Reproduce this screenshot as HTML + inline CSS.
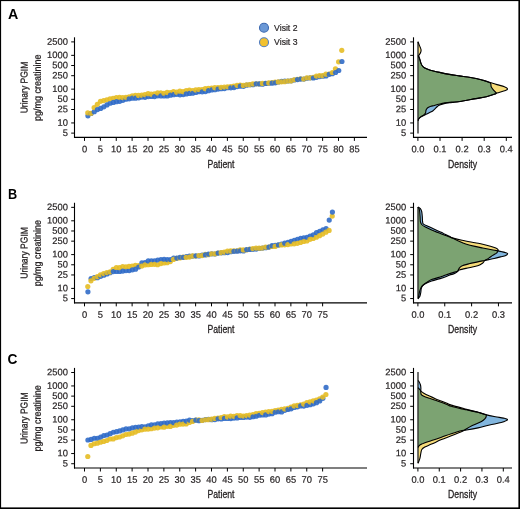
<!DOCTYPE html>
<html><head><meta charset="utf-8"><style>
html,body{margin:0;padding:0;background:#fff;}
svg{display:block;will-change:transform;}
</style></head><body>
<svg width="520" height="509" viewBox="0 0 520 509">
<defs><filter id="soft" x="-5%" y="-5%" width="110%" height="110%"><feGaussianBlur stdDeviation="0.5"/></filter></defs>
<rect x="0" y="0" width="520" height="509" fill="#fff"/>
<text x="8.0" y="19.0" textLength="10.3" lengthAdjust="spacingAndGlyphs" style="font-family:'Liberation Sans',sans-serif;font-size:14px;font-weight:700" fill="#000">A</text>
<text transform="translate(27.6,87.50) rotate(-89.9)" text-anchor="middle" textLength="51.6" lengthAdjust="spacingAndGlyphs" style="font-family:'Liberation Sans',sans-serif;font-size:10.0px" fill="#231f20" stroke="#231f20" stroke-width="0.3">Urinary PGIM</text>
<text transform="translate(40.7,87.75) rotate(-89.9)" text-anchor="middle" textLength="66.3" lengthAdjust="spacingAndGlyphs" style="font-family:'Liberation Sans',sans-serif;font-size:10.0px" fill="#231f20" stroke="#231f20" stroke-width="0.3">pg/mg creatinine</text>
<line x1="74.5" y1="37.30" x2="74.5" y2="137.95" stroke="#000" stroke-width="1.1"/>
<line x1="71.20" y1="41.90" x2="74.5" y2="41.90" stroke="#000" stroke-width="1"/>
<text transform="translate(67.90,44.70) rotate(0.1)" text-anchor="end" textLength="20.80" lengthAdjust="spacingAndGlyphs" style="font-family:'Liberation Sans',sans-serif;font-size:9.4px" fill="#231f20" stroke="#231f20" stroke-width="0.2">2500</text>
<line x1="71.20" y1="55.35" x2="74.5" y2="55.35" stroke="#000" stroke-width="1"/>
<text transform="translate(67.90,58.15) rotate(0.1)" text-anchor="end" textLength="20.80" lengthAdjust="spacingAndGlyphs" style="font-family:'Liberation Sans',sans-serif;font-size:9.4px" fill="#231f20" stroke="#231f20" stroke-width="0.2">1000</text>
<line x1="71.20" y1="65.52" x2="74.5" y2="65.52" stroke="#000" stroke-width="1"/>
<text transform="translate(67.90,68.32) rotate(0.1)" text-anchor="end" textLength="15.60" lengthAdjust="spacingAndGlyphs" style="font-family:'Liberation Sans',sans-serif;font-size:9.4px" fill="#231f20" stroke="#231f20" stroke-width="0.2">500</text>
<line x1="71.20" y1="75.70" x2="74.5" y2="75.70" stroke="#000" stroke-width="1"/>
<text transform="translate(67.90,78.50) rotate(0.1)" text-anchor="end" textLength="15.60" lengthAdjust="spacingAndGlyphs" style="font-family:'Liberation Sans',sans-serif;font-size:9.4px" fill="#231f20" stroke="#231f20" stroke-width="0.2">250</text>
<line x1="71.20" y1="89.15" x2="74.5" y2="89.15" stroke="#000" stroke-width="1"/>
<text transform="translate(67.90,91.95) rotate(0.1)" text-anchor="end" textLength="15.60" lengthAdjust="spacingAndGlyphs" style="font-family:'Liberation Sans',sans-serif;font-size:9.4px" fill="#231f20" stroke="#231f20" stroke-width="0.2">100</text>
<line x1="71.20" y1="99.32" x2="74.5" y2="99.32" stroke="#000" stroke-width="1"/>
<text transform="translate(67.90,102.12) rotate(0.1)" text-anchor="end" textLength="10.40" lengthAdjust="spacingAndGlyphs" style="font-family:'Liberation Sans',sans-serif;font-size:9.4px" fill="#231f20" stroke="#231f20" stroke-width="0.2">50</text>
<line x1="71.20" y1="109.50" x2="74.5" y2="109.50" stroke="#000" stroke-width="1"/>
<text transform="translate(67.90,112.30) rotate(0.1)" text-anchor="end" textLength="10.40" lengthAdjust="spacingAndGlyphs" style="font-family:'Liberation Sans',sans-serif;font-size:9.4px" fill="#231f20" stroke="#231f20" stroke-width="0.2">25</text>
<line x1="71.20" y1="122.95" x2="74.5" y2="122.95" stroke="#000" stroke-width="1"/>
<text transform="translate(67.90,125.75) rotate(0.1)" text-anchor="end" textLength="10.40" lengthAdjust="spacingAndGlyphs" style="font-family:'Liberation Sans',sans-serif;font-size:9.4px" fill="#231f20" stroke="#231f20" stroke-width="0.2">10</text>
<line x1="71.20" y1="133.12" x2="74.5" y2="133.12" stroke="#000" stroke-width="1"/>
<text transform="translate(67.90,135.92) rotate(0.1)" text-anchor="end" textLength="5.20" lengthAdjust="spacingAndGlyphs" style="font-family:'Liberation Sans',sans-serif;font-size:9.4px" fill="#231f20" stroke="#231f20" stroke-width="0.2">5</text>
<line x1="413.5" y1="37.30" x2="413.5" y2="137.95" stroke="#000" stroke-width="1.1"/>
<line x1="410.20" y1="41.90" x2="413.5" y2="41.90" stroke="#000" stroke-width="1"/>
<text transform="translate(406.10,44.70) rotate(0.1)" text-anchor="end" textLength="20.80" lengthAdjust="spacingAndGlyphs" style="font-family:'Liberation Sans',sans-serif;font-size:9.4px" fill="#231f20" stroke="#231f20" stroke-width="0.2">2500</text>
<line x1="410.20" y1="55.35" x2="413.5" y2="55.35" stroke="#000" stroke-width="1"/>
<text transform="translate(406.10,58.15) rotate(0.1)" text-anchor="end" textLength="20.80" lengthAdjust="spacingAndGlyphs" style="font-family:'Liberation Sans',sans-serif;font-size:9.4px" fill="#231f20" stroke="#231f20" stroke-width="0.2">1000</text>
<line x1="410.20" y1="65.52" x2="413.5" y2="65.52" stroke="#000" stroke-width="1"/>
<text transform="translate(406.10,68.32) rotate(0.1)" text-anchor="end" textLength="15.60" lengthAdjust="spacingAndGlyphs" style="font-family:'Liberation Sans',sans-serif;font-size:9.4px" fill="#231f20" stroke="#231f20" stroke-width="0.2">500</text>
<line x1="410.20" y1="75.70" x2="413.5" y2="75.70" stroke="#000" stroke-width="1"/>
<text transform="translate(406.10,78.50) rotate(0.1)" text-anchor="end" textLength="15.60" lengthAdjust="spacingAndGlyphs" style="font-family:'Liberation Sans',sans-serif;font-size:9.4px" fill="#231f20" stroke="#231f20" stroke-width="0.2">250</text>
<line x1="410.20" y1="89.15" x2="413.5" y2="89.15" stroke="#000" stroke-width="1"/>
<text transform="translate(406.10,91.95) rotate(0.1)" text-anchor="end" textLength="15.60" lengthAdjust="spacingAndGlyphs" style="font-family:'Liberation Sans',sans-serif;font-size:9.4px" fill="#231f20" stroke="#231f20" stroke-width="0.2">100</text>
<line x1="410.20" y1="99.32" x2="413.5" y2="99.32" stroke="#000" stroke-width="1"/>
<text transform="translate(406.10,102.12) rotate(0.1)" text-anchor="end" textLength="10.40" lengthAdjust="spacingAndGlyphs" style="font-family:'Liberation Sans',sans-serif;font-size:9.4px" fill="#231f20" stroke="#231f20" stroke-width="0.2">50</text>
<line x1="410.20" y1="109.50" x2="413.5" y2="109.50" stroke="#000" stroke-width="1"/>
<text transform="translate(406.10,112.30) rotate(0.1)" text-anchor="end" textLength="10.40" lengthAdjust="spacingAndGlyphs" style="font-family:'Liberation Sans',sans-serif;font-size:9.4px" fill="#231f20" stroke="#231f20" stroke-width="0.2">25</text>
<line x1="410.20" y1="122.95" x2="413.5" y2="122.95" stroke="#000" stroke-width="1"/>
<text transform="translate(406.10,125.75) rotate(0.1)" text-anchor="end" textLength="10.40" lengthAdjust="spacingAndGlyphs" style="font-family:'Liberation Sans',sans-serif;font-size:9.4px" fill="#231f20" stroke="#231f20" stroke-width="0.2">10</text>
<line x1="410.20" y1="133.12" x2="413.5" y2="133.12" stroke="#000" stroke-width="1"/>
<text transform="translate(406.10,135.92) rotate(0.1)" text-anchor="end" textLength="5.20" lengthAdjust="spacingAndGlyphs" style="font-family:'Liberation Sans',sans-serif;font-size:9.4px" fill="#231f20" stroke="#231f20" stroke-width="0.2">5</text>
<line x1="74" y1="137.40" x2="367" y2="137.40" stroke="#000" stroke-width="1.1"/>
<line x1="84.50" y1="137.40" x2="84.50" y2="140.90" stroke="#000" stroke-width="1"/>
<text transform="translate(84.50,152.20) rotate(0.1)" text-anchor="middle" textLength="5.20" lengthAdjust="spacingAndGlyphs" style="font-family:'Liberation Sans',sans-serif;font-size:9.4px" fill="#231f20" stroke="#231f20" stroke-width="0.2">0</text>
<line x1="100.38" y1="137.40" x2="100.38" y2="140.90" stroke="#000" stroke-width="1"/>
<text transform="translate(100.38,152.20) rotate(0.1)" text-anchor="middle" textLength="5.20" lengthAdjust="spacingAndGlyphs" style="font-family:'Liberation Sans',sans-serif;font-size:9.4px" fill="#231f20" stroke="#231f20" stroke-width="0.2">5</text>
<line x1="116.25" y1="137.40" x2="116.25" y2="140.90" stroke="#000" stroke-width="1"/>
<text transform="translate(116.25,152.20) rotate(0.1)" text-anchor="middle" textLength="10.40" lengthAdjust="spacingAndGlyphs" style="font-family:'Liberation Sans',sans-serif;font-size:9.4px" fill="#231f20" stroke="#231f20" stroke-width="0.2">10</text>
<line x1="132.12" y1="137.40" x2="132.12" y2="140.90" stroke="#000" stroke-width="1"/>
<text transform="translate(132.12,152.20) rotate(0.1)" text-anchor="middle" textLength="10.40" lengthAdjust="spacingAndGlyphs" style="font-family:'Liberation Sans',sans-serif;font-size:9.4px" fill="#231f20" stroke="#231f20" stroke-width="0.2">15</text>
<line x1="148.00" y1="137.40" x2="148.00" y2="140.90" stroke="#000" stroke-width="1"/>
<text transform="translate(148.00,152.20) rotate(0.1)" text-anchor="middle" textLength="10.40" lengthAdjust="spacingAndGlyphs" style="font-family:'Liberation Sans',sans-serif;font-size:9.4px" fill="#231f20" stroke="#231f20" stroke-width="0.2">20</text>
<line x1="163.88" y1="137.40" x2="163.88" y2="140.90" stroke="#000" stroke-width="1"/>
<text transform="translate(163.88,152.20) rotate(0.1)" text-anchor="middle" textLength="10.40" lengthAdjust="spacingAndGlyphs" style="font-family:'Liberation Sans',sans-serif;font-size:9.4px" fill="#231f20" stroke="#231f20" stroke-width="0.2">25</text>
<line x1="179.75" y1="137.40" x2="179.75" y2="140.90" stroke="#000" stroke-width="1"/>
<text transform="translate(179.75,152.20) rotate(0.1)" text-anchor="middle" textLength="10.40" lengthAdjust="spacingAndGlyphs" style="font-family:'Liberation Sans',sans-serif;font-size:9.4px" fill="#231f20" stroke="#231f20" stroke-width="0.2">30</text>
<line x1="195.62" y1="137.40" x2="195.62" y2="140.90" stroke="#000" stroke-width="1"/>
<text transform="translate(195.62,152.20) rotate(0.1)" text-anchor="middle" textLength="10.40" lengthAdjust="spacingAndGlyphs" style="font-family:'Liberation Sans',sans-serif;font-size:9.4px" fill="#231f20" stroke="#231f20" stroke-width="0.2">35</text>
<line x1="211.50" y1="137.40" x2="211.50" y2="140.90" stroke="#000" stroke-width="1"/>
<text transform="translate(211.50,152.20) rotate(0.1)" text-anchor="middle" textLength="10.40" lengthAdjust="spacingAndGlyphs" style="font-family:'Liberation Sans',sans-serif;font-size:9.4px" fill="#231f20" stroke="#231f20" stroke-width="0.2">40</text>
<line x1="227.38" y1="137.40" x2="227.38" y2="140.90" stroke="#000" stroke-width="1"/>
<text transform="translate(227.38,152.20) rotate(0.1)" text-anchor="middle" textLength="10.40" lengthAdjust="spacingAndGlyphs" style="font-family:'Liberation Sans',sans-serif;font-size:9.4px" fill="#231f20" stroke="#231f20" stroke-width="0.2">45</text>
<line x1="243.25" y1="137.40" x2="243.25" y2="140.90" stroke="#000" stroke-width="1"/>
<text transform="translate(243.25,152.20) rotate(0.1)" text-anchor="middle" textLength="10.40" lengthAdjust="spacingAndGlyphs" style="font-family:'Liberation Sans',sans-serif;font-size:9.4px" fill="#231f20" stroke="#231f20" stroke-width="0.2">50</text>
<line x1="259.12" y1="137.40" x2="259.12" y2="140.90" stroke="#000" stroke-width="1"/>
<text transform="translate(259.12,152.20) rotate(0.1)" text-anchor="middle" textLength="10.40" lengthAdjust="spacingAndGlyphs" style="font-family:'Liberation Sans',sans-serif;font-size:9.4px" fill="#231f20" stroke="#231f20" stroke-width="0.2">55</text>
<line x1="275.00" y1="137.40" x2="275.00" y2="140.90" stroke="#000" stroke-width="1"/>
<text transform="translate(275.00,152.20) rotate(0.1)" text-anchor="middle" textLength="10.40" lengthAdjust="spacingAndGlyphs" style="font-family:'Liberation Sans',sans-serif;font-size:9.4px" fill="#231f20" stroke="#231f20" stroke-width="0.2">60</text>
<line x1="290.88" y1="137.40" x2="290.88" y2="140.90" stroke="#000" stroke-width="1"/>
<text transform="translate(290.88,152.20) rotate(0.1)" text-anchor="middle" textLength="10.40" lengthAdjust="spacingAndGlyphs" style="font-family:'Liberation Sans',sans-serif;font-size:9.4px" fill="#231f20" stroke="#231f20" stroke-width="0.2">65</text>
<line x1="306.75" y1="137.40" x2="306.75" y2="140.90" stroke="#000" stroke-width="1"/>
<text transform="translate(306.75,152.20) rotate(0.1)" text-anchor="middle" textLength="10.40" lengthAdjust="spacingAndGlyphs" style="font-family:'Liberation Sans',sans-serif;font-size:9.4px" fill="#231f20" stroke="#231f20" stroke-width="0.2">70</text>
<line x1="322.62" y1="137.40" x2="322.62" y2="140.90" stroke="#000" stroke-width="1"/>
<text transform="translate(322.62,152.20) rotate(0.1)" text-anchor="middle" textLength="10.40" lengthAdjust="spacingAndGlyphs" style="font-family:'Liberation Sans',sans-serif;font-size:9.4px" fill="#231f20" stroke="#231f20" stroke-width="0.2">75</text>
<line x1="338.50" y1="137.40" x2="338.50" y2="140.90" stroke="#000" stroke-width="1"/>
<text transform="translate(338.50,152.20) rotate(0.1)" text-anchor="middle" textLength="10.40" lengthAdjust="spacingAndGlyphs" style="font-family:'Liberation Sans',sans-serif;font-size:9.4px" fill="#231f20" stroke="#231f20" stroke-width="0.2">80</text>
<line x1="354.38" y1="137.40" x2="354.38" y2="140.90" stroke="#000" stroke-width="1"/>
<text transform="translate(354.38,152.20) rotate(0.1)" text-anchor="middle" textLength="10.40" lengthAdjust="spacingAndGlyphs" style="font-family:'Liberation Sans',sans-serif;font-size:9.4px" fill="#231f20" stroke="#231f20" stroke-width="0.2">85</text>
<text x="221" y="167.70" text-anchor="middle" textLength="27" lengthAdjust="spacingAndGlyphs" style="font-family:'Liberation Sans',sans-serif;font-size:11px" fill="#231f20" stroke="#231f20" stroke-width="0.3">Patient</text>
<line x1="413" y1="137.40" x2="512" y2="137.40" stroke="#000" stroke-width="1.1"/>
<line x1="417.90" y1="137.40" x2="417.90" y2="140.90" stroke="#000" stroke-width="1"/>
<text transform="translate(417.90,152.20) rotate(0.1)" text-anchor="middle" textLength="13.00" lengthAdjust="spacingAndGlyphs" style="font-family:'Liberation Sans',sans-serif;font-size:9.4px" fill="#231f20" stroke="#231f20" stroke-width="0.2">0.0</text>
<line x1="440.00" y1="137.40" x2="440.00" y2="140.90" stroke="#000" stroke-width="1"/>
<text transform="translate(440.00,152.20) rotate(0.1)" text-anchor="middle" textLength="13.00" lengthAdjust="spacingAndGlyphs" style="font-family:'Liberation Sans',sans-serif;font-size:9.4px" fill="#231f20" stroke="#231f20" stroke-width="0.2">0.1</text>
<line x1="462.10" y1="137.40" x2="462.10" y2="140.90" stroke="#000" stroke-width="1"/>
<text transform="translate(462.10,152.20) rotate(0.1)" text-anchor="middle" textLength="13.00" lengthAdjust="spacingAndGlyphs" style="font-family:'Liberation Sans',sans-serif;font-size:9.4px" fill="#231f20" stroke="#231f20" stroke-width="0.2">0.2</text>
<line x1="484.20" y1="137.40" x2="484.20" y2="140.90" stroke="#000" stroke-width="1"/>
<text transform="translate(484.20,152.20) rotate(0.1)" text-anchor="middle" textLength="13.00" lengthAdjust="spacingAndGlyphs" style="font-family:'Liberation Sans',sans-serif;font-size:9.4px" fill="#231f20" stroke="#231f20" stroke-width="0.2">0.3</text>
<line x1="506.30" y1="137.40" x2="506.30" y2="140.90" stroke="#000" stroke-width="1"/>
<text transform="translate(506.30,152.20) rotate(0.1)" text-anchor="middle" textLength="13.00" lengthAdjust="spacingAndGlyphs" style="font-family:'Liberation Sans',sans-serif;font-size:9.4px" fill="#231f20" stroke="#231f20" stroke-width="0.2">0.4</text>
<text x="462.6" y="167.70" text-anchor="middle" textLength="29" lengthAdjust="spacingAndGlyphs" style="font-family:'Liberation Sans',sans-serif;font-size:11px" fill="#231f20" stroke="#231f20" stroke-width="0.3">Density</text>
<clipPath id="c2_0"><path d="M417.90,41.80 L417.90,41.80 C417.92,44.08 417.87,53.03 418.00,55.50 C418.13,57.97 418.38,55.92 418.70,56.60 C419.02,57.28 419.53,58.52 419.90,59.60 C420.27,60.68 420.48,62.03 420.90,63.10 C421.32,64.17 421.75,65.18 422.40,66.00 C423.05,66.82 423.58,67.33 424.80,68.00 C426.02,68.67 427.23,69.27 429.70,70.00 C432.17,70.73 436.32,71.67 439.60,72.40 C442.88,73.13 446.13,73.82 449.40,74.40 C452.67,74.98 455.67,75.38 459.20,75.90 C462.73,76.42 466.93,76.85 470.60,77.50 C474.27,78.15 477.95,78.92 481.20,79.80 C484.45,80.68 488.43,81.65 490.10,82.80 C491.77,83.95 490.58,85.43 491.20,86.70 C491.82,87.97 492.95,89.35 493.80,90.40 C494.65,91.45 496.12,92.38 496.30,93.00 C496.48,93.62 496.55,93.48 494.90,94.10 C493.25,94.72 489.57,95.95 486.40,96.70 C483.23,97.45 480.30,97.80 475.90,98.60 C471.50,99.40 463.98,100.85 460.00,101.50 C456.02,102.15 454.50,102.18 452.00,102.50 C449.50,102.82 447.05,102.98 445.00,103.40 C442.95,103.82 440.97,104.48 439.70,105.00 C438.43,105.52 438.18,105.85 437.40,106.50 C436.62,107.15 435.78,108.15 435.00,108.90 C434.22,109.65 433.58,110.38 432.70,111.00 C431.82,111.62 430.68,112.08 429.70,112.60 C428.72,113.12 427.78,113.63 426.80,114.10 C425.82,114.57 424.78,114.97 423.80,115.40 C422.82,115.83 421.68,116.18 420.90,116.70 C420.12,117.22 419.50,118.02 419.10,118.50 C418.70,118.98 418.65,119.23 418.50,119.60 C418.35,119.97 418.30,118.38 418.20,120.70 C418.10,123.02 417.95,131.37 417.90,133.50 L417.90,133.50 Z"/></clipPath>
<path d="M417.90,41.80 L417.90,41.80 C417.92,44.08 417.87,53.03 418.00,55.50 C418.13,57.97 418.38,55.92 418.70,56.60 C419.02,57.28 419.53,58.52 419.90,59.60 C420.27,60.68 420.48,62.03 420.90,63.10 C421.32,64.17 421.75,65.18 422.40,66.00 C423.05,66.82 423.58,67.33 424.80,68.00 C426.02,68.67 427.23,69.27 429.70,70.00 C432.17,70.73 436.32,71.67 439.60,72.40 C442.88,73.13 446.13,73.82 449.40,74.40 C452.67,74.98 455.67,75.38 459.20,75.90 C462.73,76.42 466.93,76.85 470.60,77.50 C474.27,78.15 477.95,78.92 481.20,79.80 C484.45,80.68 488.43,81.65 490.10,82.80 C491.77,83.95 490.58,85.43 491.20,86.70 C491.82,87.97 492.95,89.35 493.80,90.40 C494.65,91.45 496.12,92.38 496.30,93.00 C496.48,93.62 496.55,93.48 494.90,94.10 C493.25,94.72 489.57,95.95 486.40,96.70 C483.23,97.45 480.30,97.80 475.90,98.60 C471.50,99.40 463.98,100.85 460.00,101.50 C456.02,102.15 454.50,102.18 452.00,102.50 C449.50,102.82 447.05,102.98 445.00,103.40 C442.95,103.82 440.97,104.48 439.70,105.00 C438.43,105.52 438.18,105.85 437.40,106.50 C436.62,107.15 435.78,108.15 435.00,108.90 C434.22,109.65 433.58,110.38 432.70,111.00 C431.82,111.62 430.68,112.08 429.70,112.60 C428.72,113.12 427.78,113.63 426.80,114.10 C425.82,114.57 424.78,114.97 423.80,115.40 C422.82,115.83 421.68,116.18 420.90,116.70 C420.12,117.22 419.50,118.02 419.10,118.50 C418.70,118.98 418.65,119.23 418.50,119.60 C418.35,119.97 418.30,118.38 418.20,120.70 C418.10,123.02 417.95,131.37 417.90,133.50 L417.90,133.50 Z" fill="#82b6de"/>
<path d="M417.90,41.80 L417.90,41.80 C418.12,42.33 418.80,44.05 419.20,45.00 C419.60,45.95 419.98,46.67 420.30,47.50 C420.62,48.33 421.07,49.12 421.10,50.00 C421.13,50.88 420.85,51.93 420.50,52.80 C420.15,53.67 419.30,54.63 419.00,55.20 C418.70,55.77 418.55,55.47 418.70,56.20 C418.85,56.93 419.53,58.45 419.90,59.60 C420.27,60.75 420.48,62.03 420.90,63.10 C421.32,64.17 421.75,65.18 422.40,66.00 C423.05,66.82 423.58,67.33 424.80,68.00 C426.02,68.67 427.23,69.27 429.70,70.00 C432.17,70.73 436.32,71.67 439.60,72.40 C442.88,73.13 446.13,73.82 449.40,74.40 C452.67,74.98 455.67,75.38 459.20,75.90 C462.73,76.42 466.93,76.85 470.60,77.50 C474.27,78.15 477.95,78.97 481.20,79.80 C484.45,80.63 487.47,81.70 490.10,82.50 C492.73,83.30 494.62,83.90 497.00,84.60 C499.38,85.30 502.63,86.00 504.40,86.70 C506.17,87.40 507.42,88.18 507.60,88.80 C507.78,89.42 507.27,89.70 505.50,90.40 C503.73,91.10 498.77,92.38 497.00,93.00 C495.23,93.62 496.67,93.48 494.90,94.10 C493.13,94.72 489.57,95.95 486.40,96.70 C483.23,97.45 480.30,97.80 475.90,98.60 C471.50,99.40 463.98,100.92 460.00,101.50 C456.02,102.08 454.50,101.87 452.00,102.10 C449.50,102.33 447.23,102.53 445.00,102.90 C442.77,103.27 440.37,103.87 438.60,104.30 C436.83,104.73 435.68,105.17 434.40,105.50 C433.12,105.83 431.87,106.02 430.90,106.30 C429.93,106.58 429.23,106.87 428.60,107.20 C427.97,107.53 427.53,107.80 427.10,108.30 C426.67,108.80 426.25,109.47 426.00,110.20 C425.75,110.93 425.87,112.00 425.60,112.70 C425.33,113.40 424.98,113.82 424.40,114.40 C423.82,114.98 422.88,115.65 422.10,116.20 C421.32,116.75 420.30,117.20 419.70,117.70 C419.10,118.20 418.75,118.70 418.50,119.20 C418.25,119.70 418.30,118.32 418.20,120.70 C418.10,123.08 417.95,131.37 417.90,133.50 L417.90,133.50 Z" fill="#f6dc7a"/>
<path d="M417.90,41.80 L417.90,41.80 C418.12,42.33 418.80,44.05 419.20,45.00 C419.60,45.95 419.98,46.67 420.30,47.50 C420.62,48.33 421.07,49.12 421.10,50.00 C421.13,50.88 420.85,51.93 420.50,52.80 C420.15,53.67 419.30,54.63 419.00,55.20 C418.70,55.77 418.55,55.47 418.70,56.20 C418.85,56.93 419.53,58.45 419.90,59.60 C420.27,60.75 420.48,62.03 420.90,63.10 C421.32,64.17 421.75,65.18 422.40,66.00 C423.05,66.82 423.58,67.33 424.80,68.00 C426.02,68.67 427.23,69.27 429.70,70.00 C432.17,70.73 436.32,71.67 439.60,72.40 C442.88,73.13 446.13,73.82 449.40,74.40 C452.67,74.98 455.67,75.38 459.20,75.90 C462.73,76.42 466.93,76.85 470.60,77.50 C474.27,78.15 477.95,78.97 481.20,79.80 C484.45,80.63 487.47,81.70 490.10,82.50 C492.73,83.30 494.62,83.90 497.00,84.60 C499.38,85.30 502.63,86.00 504.40,86.70 C506.17,87.40 507.42,88.18 507.60,88.80 C507.78,89.42 507.27,89.70 505.50,90.40 C503.73,91.10 498.77,92.38 497.00,93.00 C495.23,93.62 496.67,93.48 494.90,94.10 C493.13,94.72 489.57,95.95 486.40,96.70 C483.23,97.45 480.30,97.80 475.90,98.60 C471.50,99.40 463.98,100.92 460.00,101.50 C456.02,102.08 454.50,101.87 452.00,102.10 C449.50,102.33 447.23,102.53 445.00,102.90 C442.77,103.27 440.37,103.87 438.60,104.30 C436.83,104.73 435.68,105.17 434.40,105.50 C433.12,105.83 431.87,106.02 430.90,106.30 C429.93,106.58 429.23,106.87 428.60,107.20 C427.97,107.53 427.53,107.80 427.10,108.30 C426.67,108.80 426.25,109.47 426.00,110.20 C425.75,110.93 425.87,112.00 425.60,112.70 C425.33,113.40 424.98,113.82 424.40,114.40 C423.82,114.98 422.88,115.65 422.10,116.20 C421.32,116.75 420.30,117.20 419.70,117.70 C419.10,118.20 418.75,118.70 418.50,119.20 C418.25,119.70 418.30,118.32 418.20,120.70 C418.10,123.08 417.95,131.37 417.90,133.50 L417.90,133.50 Z" fill="#7ca372" clip-path="url(#c2_0)"/>
<line x1="418.0" y1="41.80" x2="418.0" y2="133.50" stroke="#333" stroke-width="1.4"/>
<path d="M418.00,55.50 C418.12,55.68 418.38,55.92 418.70,56.60 C419.02,57.28 419.53,58.52 419.90,59.60 C420.27,60.68 420.48,62.03 420.90,63.10 C421.32,64.17 421.75,65.18 422.40,66.00 C423.05,66.82 423.58,67.33 424.80,68.00 C426.02,68.67 427.23,69.27 429.70,70.00 C432.17,70.73 436.32,71.67 439.60,72.40 C442.88,73.13 446.13,73.82 449.40,74.40 C452.67,74.98 455.67,75.38 459.20,75.90 C462.73,76.42 466.93,76.85 470.60,77.50 C474.27,78.15 477.95,78.92 481.20,79.80 C484.45,80.68 488.43,81.65 490.10,82.80 C491.77,83.95 490.58,85.43 491.20,86.70 C491.82,87.97 492.95,89.35 493.80,90.40 C494.65,91.45 496.12,92.38 496.30,93.00 C496.48,93.62 496.55,93.48 494.90,94.10 C493.25,94.72 489.57,95.95 486.40,96.70 C483.23,97.45 480.30,97.80 475.90,98.60 C471.50,99.40 463.98,100.85 460.00,101.50 C456.02,102.15 454.50,102.18 452.00,102.50 C449.50,102.82 447.05,102.98 445.00,103.40 C442.95,103.82 440.97,104.48 439.70,105.00 C438.43,105.52 438.18,105.85 437.40,106.50 C436.62,107.15 435.78,108.15 435.00,108.90 C434.22,109.65 433.58,110.38 432.70,111.00 C431.82,111.62 430.68,112.08 429.70,112.60 C428.72,113.12 427.78,113.63 426.80,114.10 C425.82,114.57 424.78,114.97 423.80,115.40 C422.82,115.83 421.68,116.18 420.90,116.70 C420.12,117.22 419.50,118.02 419.10,118.50 C418.70,118.98 418.65,119.23 418.50,119.60 C418.35,119.97 418.25,120.52 418.20,120.70" fill="none" stroke="#000" stroke-width="1.1" stroke-linejoin="round"/>
<path d="M417.90,41.80 C418.12,42.33 418.80,44.05 419.20,45.00 C419.60,45.95 419.98,46.67 420.30,47.50 C420.62,48.33 421.07,49.12 421.10,50.00 C421.13,50.88 420.85,51.93 420.50,52.80 C420.15,53.67 419.30,54.63 419.00,55.20 C418.70,55.77 418.55,55.47 418.70,56.20 C418.85,56.93 419.53,58.45 419.90,59.60 C420.27,60.75 420.48,62.03 420.90,63.10 C421.32,64.17 421.75,65.18 422.40,66.00 C423.05,66.82 423.58,67.33 424.80,68.00 C426.02,68.67 427.23,69.27 429.70,70.00 C432.17,70.73 436.32,71.67 439.60,72.40 C442.88,73.13 446.13,73.82 449.40,74.40 C452.67,74.98 455.67,75.38 459.20,75.90 C462.73,76.42 466.93,76.85 470.60,77.50 C474.27,78.15 477.95,78.97 481.20,79.80 C484.45,80.63 487.47,81.70 490.10,82.50 C492.73,83.30 494.62,83.90 497.00,84.60 C499.38,85.30 502.63,86.00 504.40,86.70 C506.17,87.40 507.42,88.18 507.60,88.80 C507.78,89.42 507.27,89.70 505.50,90.40 C503.73,91.10 498.77,92.38 497.00,93.00 C495.23,93.62 496.67,93.48 494.90,94.10 C493.13,94.72 489.57,95.95 486.40,96.70 C483.23,97.45 480.30,97.80 475.90,98.60 C471.50,99.40 463.98,100.92 460.00,101.50 C456.02,102.08 454.50,101.87 452.00,102.10 C449.50,102.33 447.23,102.53 445.00,102.90 C442.77,103.27 440.37,103.87 438.60,104.30 C436.83,104.73 435.68,105.17 434.40,105.50 C433.12,105.83 431.87,106.02 430.90,106.30 C429.93,106.58 429.23,106.87 428.60,107.20 C427.97,107.53 427.53,107.80 427.10,108.30 C426.67,108.80 426.25,109.47 426.00,110.20 C425.75,110.93 425.87,112.00 425.60,112.70 C425.33,113.40 424.98,113.82 424.40,114.40 C423.82,114.98 422.88,115.65 422.10,116.20 C421.32,116.75 420.30,117.20 419.70,117.70 C419.10,118.20 418.75,118.70 418.50,119.20 C418.25,119.70 418.25,120.45 418.20,120.70" fill="none" stroke="#000" stroke-width="1.1" stroke-linejoin="round"/>
<g filter="url(#soft)">
<circle cx="87.92" cy="115.80" r="2.6" fill="#306bc8" fill-opacity="0.9"/>
<circle cx="87.77" cy="112.80" r="2.6" fill="#e5bd26" fill-opacity="0.9"/>
<circle cx="91.10" cy="113.50" r="2.6" fill="#306bc8" fill-opacity="0.9"/>
<circle cx="90.95" cy="113.30" r="2.6" fill="#e5bd26" fill-opacity="0.9"/>
<circle cx="94.28" cy="111.64" r="2.6" fill="#306bc8" fill-opacity="0.9"/>
<circle cx="94.12" cy="107.53" r="2.6" fill="#e5bd26" fill-opacity="0.9"/>
<circle cx="97.30" cy="104.33" r="2.6" fill="#e5bd26" fill-opacity="0.9"/>
<circle cx="97.45" cy="109.56" r="2.6" fill="#306bc8" fill-opacity="0.9"/>
<circle cx="100.62" cy="108.44" r="2.6" fill="#306bc8" fill-opacity="0.9"/>
<circle cx="100.47" cy="101.31" r="2.6" fill="#e5bd26" fill-opacity="0.9"/>
<circle cx="103.80" cy="106.87" r="2.6" fill="#306bc8" fill-opacity="0.9"/>
<circle cx="103.65" cy="100.60" r="2.6" fill="#e5bd26" fill-opacity="0.9"/>
<circle cx="106.82" cy="99.82" r="2.6" fill="#e5bd26" fill-opacity="0.9"/>
<circle cx="106.97" cy="104.92" r="2.6" fill="#306bc8" fill-opacity="0.9"/>
<circle cx="110.15" cy="103.27" r="2.6" fill="#306bc8" fill-opacity="0.9"/>
<circle cx="110.00" cy="98.73" r="2.6" fill="#e5bd26" fill-opacity="0.9"/>
<circle cx="113.17" cy="98.36" r="2.6" fill="#e5bd26" fill-opacity="0.9"/>
<circle cx="113.33" cy="102.43" r="2.6" fill="#306bc8" fill-opacity="0.9"/>
<circle cx="116.35" cy="97.53" r="2.6" fill="#e5bd26" fill-opacity="0.9"/>
<circle cx="116.50" cy="101.64" r="2.6" fill="#306bc8" fill-opacity="0.9"/>
<circle cx="119.67" cy="101.28" r="2.6" fill="#306bc8" fill-opacity="0.9"/>
<circle cx="119.52" cy="97.26" r="2.6" fill="#e5bd26" fill-opacity="0.9"/>
<circle cx="122.85" cy="100.36" r="2.6" fill="#306bc8" fill-opacity="0.9"/>
<circle cx="122.70" cy="97.60" r="2.6" fill="#e5bd26" fill-opacity="0.9"/>
<circle cx="126.03" cy="99.13" r="2.6" fill="#306bc8" fill-opacity="0.9"/>
<circle cx="125.88" cy="97.23" r="2.6" fill="#e5bd26" fill-opacity="0.9"/>
<circle cx="129.05" cy="96.89" r="2.6" fill="#e5bd26" fill-opacity="0.9"/>
<circle cx="129.20" cy="98.78" r="2.6" fill="#306bc8" fill-opacity="0.9"/>
<circle cx="132.22" cy="95.80" r="2.6" fill="#e5bd26" fill-opacity="0.9"/>
<circle cx="132.38" cy="98.14" r="2.6" fill="#306bc8" fill-opacity="0.9"/>
<circle cx="135.40" cy="95.39" r="2.6" fill="#e5bd26" fill-opacity="0.9"/>
<circle cx="135.55" cy="98.21" r="2.6" fill="#306bc8" fill-opacity="0.9"/>
<circle cx="138.72" cy="97.87" r="2.6" fill="#306bc8" fill-opacity="0.9"/>
<circle cx="138.57" cy="95.40" r="2.6" fill="#e5bd26" fill-opacity="0.9"/>
<circle cx="141.90" cy="97.06" r="2.6" fill="#306bc8" fill-opacity="0.9"/>
<circle cx="141.75" cy="95.19" r="2.6" fill="#e5bd26" fill-opacity="0.9"/>
<circle cx="145.07" cy="97.29" r="2.6" fill="#306bc8" fill-opacity="0.9"/>
<circle cx="144.92" cy="94.59" r="2.6" fill="#e5bd26" fill-opacity="0.9"/>
<circle cx="148.25" cy="96.57" r="2.6" fill="#306bc8" fill-opacity="0.9"/>
<circle cx="148.10" cy="93.63" r="2.6" fill="#e5bd26" fill-opacity="0.9"/>
<circle cx="151.43" cy="96.49" r="2.6" fill="#306bc8" fill-opacity="0.9"/>
<circle cx="151.28" cy="94.20" r="2.6" fill="#e5bd26" fill-opacity="0.9"/>
<circle cx="154.45" cy="93.79" r="2.6" fill="#e5bd26" fill-opacity="0.9"/>
<circle cx="154.60" cy="96.62" r="2.6" fill="#306bc8" fill-opacity="0.9"/>
<circle cx="157.77" cy="95.85" r="2.6" fill="#306bc8" fill-opacity="0.9"/>
<circle cx="157.62" cy="92.96" r="2.6" fill="#e5bd26" fill-opacity="0.9"/>
<circle cx="160.80" cy="92.86" r="2.6" fill="#e5bd26" fill-opacity="0.9"/>
<circle cx="160.95" cy="95.92" r="2.6" fill="#306bc8" fill-opacity="0.9"/>
<circle cx="164.12" cy="95.91" r="2.6" fill="#306bc8" fill-opacity="0.9"/>
<circle cx="163.97" cy="93.25" r="2.6" fill="#e5bd26" fill-opacity="0.9"/>
<circle cx="167.30" cy="95.94" r="2.6" fill="#306bc8" fill-opacity="0.9"/>
<circle cx="167.15" cy="92.42" r="2.6" fill="#e5bd26" fill-opacity="0.9"/>
<circle cx="170.32" cy="92.49" r="2.6" fill="#e5bd26" fill-opacity="0.9"/>
<circle cx="170.47" cy="95.17" r="2.6" fill="#306bc8" fill-opacity="0.9"/>
<circle cx="173.50" cy="91.64" r="2.6" fill="#e5bd26" fill-opacity="0.9"/>
<circle cx="173.65" cy="94.68" r="2.6" fill="#306bc8" fill-opacity="0.9"/>
<circle cx="176.82" cy="94.35" r="2.6" fill="#306bc8" fill-opacity="0.9"/>
<circle cx="176.67" cy="92.16" r="2.6" fill="#e5bd26" fill-opacity="0.9"/>
<circle cx="180.00" cy="94.86" r="2.6" fill="#306bc8" fill-opacity="0.9"/>
<circle cx="179.85" cy="91.15" r="2.6" fill="#e5bd26" fill-opacity="0.9"/>
<circle cx="183.18" cy="94.56" r="2.6" fill="#306bc8" fill-opacity="0.9"/>
<circle cx="183.03" cy="91.66" r="2.6" fill="#e5bd26" fill-opacity="0.9"/>
<circle cx="186.20" cy="90.71" r="2.6" fill="#e5bd26" fill-opacity="0.9"/>
<circle cx="186.35" cy="93.96" r="2.6" fill="#306bc8" fill-opacity="0.9"/>
<circle cx="189.37" cy="90.18" r="2.6" fill="#e5bd26" fill-opacity="0.9"/>
<circle cx="189.52" cy="93.43" r="2.6" fill="#306bc8" fill-opacity="0.9"/>
<circle cx="192.55" cy="90.70" r="2.6" fill="#e5bd26" fill-opacity="0.9"/>
<circle cx="192.70" cy="93.27" r="2.6" fill="#306bc8" fill-opacity="0.9"/>
<circle cx="195.88" cy="92.48" r="2.6" fill="#306bc8" fill-opacity="0.9"/>
<circle cx="195.72" cy="89.94" r="2.6" fill="#e5bd26" fill-opacity="0.9"/>
<circle cx="199.05" cy="91.65" r="2.6" fill="#306bc8" fill-opacity="0.9"/>
<circle cx="198.90" cy="89.52" r="2.6" fill="#e5bd26" fill-opacity="0.9"/>
<circle cx="202.07" cy="89.60" r="2.6" fill="#e5bd26" fill-opacity="0.9"/>
<circle cx="202.22" cy="91.82" r="2.6" fill="#306bc8" fill-opacity="0.9"/>
<circle cx="205.40" cy="91.58" r="2.6" fill="#306bc8" fill-opacity="0.9"/>
<circle cx="205.25" cy="88.71" r="2.6" fill="#e5bd26" fill-opacity="0.9"/>
<circle cx="208.42" cy="88.38" r="2.6" fill="#e5bd26" fill-opacity="0.9"/>
<circle cx="208.57" cy="90.72" r="2.6" fill="#306bc8" fill-opacity="0.9"/>
<circle cx="211.60" cy="88.08" r="2.6" fill="#e5bd26" fill-opacity="0.9"/>
<circle cx="211.75" cy="89.94" r="2.6" fill="#306bc8" fill-opacity="0.9"/>
<circle cx="214.92" cy="89.67" r="2.6" fill="#306bc8" fill-opacity="0.9"/>
<circle cx="214.77" cy="87.63" r="2.6" fill="#e5bd26" fill-opacity="0.9"/>
<circle cx="217.95" cy="87.54" r="2.6" fill="#e5bd26" fill-opacity="0.9"/>
<circle cx="218.10" cy="89.10" r="2.6" fill="#306bc8" fill-opacity="0.9"/>
<circle cx="221.28" cy="88.72" r="2.6" fill="#306bc8" fill-opacity="0.9"/>
<circle cx="221.12" cy="87.47" r="2.6" fill="#e5bd26" fill-opacity="0.9"/>
<circle cx="224.45" cy="88.53" r="2.6" fill="#306bc8" fill-opacity="0.9"/>
<circle cx="224.30" cy="86.99" r="2.6" fill="#e5bd26" fill-opacity="0.9"/>
<circle cx="227.62" cy="87.76" r="2.6" fill="#306bc8" fill-opacity="0.9"/>
<circle cx="227.47" cy="86.77" r="2.6" fill="#e5bd26" fill-opacity="0.9"/>
<circle cx="230.65" cy="86.48" r="2.6" fill="#e5bd26" fill-opacity="0.9"/>
<circle cx="230.80" cy="87.78" r="2.6" fill="#306bc8" fill-opacity="0.9"/>
<circle cx="233.82" cy="86.09" r="2.6" fill="#e5bd26" fill-opacity="0.9"/>
<circle cx="233.97" cy="87.59" r="2.6" fill="#306bc8" fill-opacity="0.9"/>
<circle cx="237.15" cy="86.60" r="2.6" fill="#306bc8" fill-opacity="0.9"/>
<circle cx="237.00" cy="85.34" r="2.6" fill="#e5bd26" fill-opacity="0.9"/>
<circle cx="240.17" cy="85.20" r="2.6" fill="#e5bd26" fill-opacity="0.9"/>
<circle cx="240.32" cy="86.22" r="2.6" fill="#306bc8" fill-opacity="0.9"/>
<circle cx="243.50" cy="86.37" r="2.6" fill="#306bc8" fill-opacity="0.9"/>
<circle cx="243.35" cy="85.44" r="2.6" fill="#e5bd26" fill-opacity="0.9"/>
<circle cx="246.67" cy="85.13" r="2.6" fill="#306bc8" fill-opacity="0.9"/>
<circle cx="246.52" cy="84.74" r="2.6" fill="#e5bd26" fill-opacity="0.9"/>
<circle cx="249.85" cy="84.73" r="2.6" fill="#306bc8" fill-opacity="0.9"/>
<circle cx="249.70" cy="84.66" r="2.6" fill="#e5bd26" fill-opacity="0.9"/>
<circle cx="253.02" cy="84.77" r="2.6" fill="#306bc8" fill-opacity="0.9"/>
<circle cx="252.87" cy="83.91" r="2.6" fill="#e5bd26" fill-opacity="0.9"/>
<circle cx="256.05" cy="83.75" r="2.6" fill="#e5bd26" fill-opacity="0.9"/>
<circle cx="256.20" cy="83.86" r="2.6" fill="#306bc8" fill-opacity="0.9"/>
<circle cx="259.23" cy="83.97" r="2.6" fill="#e5bd26" fill-opacity="0.9"/>
<circle cx="259.38" cy="83.91" r="2.6" fill="#306bc8" fill-opacity="0.9"/>
<circle cx="262.55" cy="84.17" r="2.6" fill="#306bc8" fill-opacity="0.9"/>
<circle cx="262.40" cy="83.46" r="2.6" fill="#e5bd26" fill-opacity="0.9"/>
<circle cx="265.58" cy="83.51" r="2.6" fill="#e5bd26" fill-opacity="0.9"/>
<circle cx="265.73" cy="83.42" r="2.6" fill="#306bc8" fill-opacity="0.9"/>
<circle cx="268.90" cy="83.26" r="2.6" fill="#306bc8" fill-opacity="0.9"/>
<circle cx="268.75" cy="82.91" r="2.6" fill="#e5bd26" fill-opacity="0.9"/>
<circle cx="271.93" cy="82.51" r="2.6" fill="#e5bd26" fill-opacity="0.9"/>
<circle cx="272.07" cy="83.16" r="2.6" fill="#306bc8" fill-opacity="0.9"/>
<circle cx="275.10" cy="82.15" r="2.6" fill="#e5bd26" fill-opacity="0.9"/>
<circle cx="275.25" cy="82.81" r="2.6" fill="#306bc8" fill-opacity="0.9"/>
<circle cx="278.42" cy="82.01" r="2.6" fill="#306bc8" fill-opacity="0.9"/>
<circle cx="278.27" cy="81.88" r="2.6" fill="#e5bd26" fill-opacity="0.9"/>
<circle cx="281.60" cy="81.40" r="2.6" fill="#306bc8" fill-opacity="0.9"/>
<circle cx="281.45" cy="81.80" r="2.6" fill="#e5bd26" fill-opacity="0.9"/>
<circle cx="284.77" cy="81.10" r="2.6" fill="#306bc8" fill-opacity="0.9"/>
<circle cx="284.62" cy="81.71" r="2.6" fill="#e5bd26" fill-opacity="0.9"/>
<circle cx="287.95" cy="80.98" r="2.6" fill="#306bc8" fill-opacity="0.9"/>
<circle cx="287.80" cy="80.99" r="2.6" fill="#e5bd26" fill-opacity="0.9"/>
<circle cx="291.12" cy="80.84" r="2.6" fill="#306bc8" fill-opacity="0.9"/>
<circle cx="290.98" cy="80.94" r="2.6" fill="#e5bd26" fill-opacity="0.9"/>
<circle cx="294.30" cy="80.00" r="2.6" fill="#306bc8" fill-opacity="0.9"/>
<circle cx="294.15" cy="79.75" r="2.6" fill="#e5bd26" fill-opacity="0.9"/>
<circle cx="297.33" cy="79.24" r="2.6" fill="#e5bd26" fill-opacity="0.9"/>
<circle cx="297.48" cy="79.60" r="2.6" fill="#306bc8" fill-opacity="0.9"/>
<circle cx="300.50" cy="78.77" r="2.6" fill="#e5bd26" fill-opacity="0.9"/>
<circle cx="300.65" cy="79.03" r="2.6" fill="#306bc8" fill-opacity="0.9"/>
<circle cx="303.82" cy="79.11" r="2.6" fill="#306bc8" fill-opacity="0.9"/>
<circle cx="303.68" cy="78.98" r="2.6" fill="#e5bd26" fill-opacity="0.9"/>
<circle cx="307.00" cy="78.25" r="2.6" fill="#306bc8" fill-opacity="0.9"/>
<circle cx="306.85" cy="77.85" r="2.6" fill="#e5bd26" fill-opacity="0.9"/>
<circle cx="310.17" cy="77.86" r="2.6" fill="#306bc8" fill-opacity="0.9"/>
<circle cx="310.02" cy="77.86" r="2.6" fill="#e5bd26" fill-opacity="0.9"/>
<circle cx="313.20" cy="77.43" r="2.6" fill="#e5bd26" fill-opacity="0.9"/>
<circle cx="313.35" cy="78.01" r="2.6" fill="#306bc8" fill-opacity="0.9"/>
<circle cx="316.52" cy="77.28" r="2.6" fill="#306bc8" fill-opacity="0.9"/>
<circle cx="316.38" cy="76.11" r="2.6" fill="#e5bd26" fill-opacity="0.9"/>
<circle cx="319.70" cy="76.55" r="2.6" fill="#306bc8" fill-opacity="0.9"/>
<circle cx="319.55" cy="75.63" r="2.6" fill="#e5bd26" fill-opacity="0.9"/>
<circle cx="322.88" cy="76.15" r="2.6" fill="#306bc8" fill-opacity="0.9"/>
<circle cx="322.73" cy="75.63" r="2.6" fill="#e5bd26" fill-opacity="0.9"/>
<circle cx="326.05" cy="75.89" r="2.6" fill="#306bc8" fill-opacity="0.9"/>
<circle cx="325.90" cy="74.22" r="2.6" fill="#e5bd26" fill-opacity="0.9"/>
<circle cx="329.08" cy="73.99" r="2.6" fill="#e5bd26" fill-opacity="0.9"/>
<circle cx="329.23" cy="74.35" r="2.6" fill="#306bc8" fill-opacity="0.9"/>
<circle cx="332.40" cy="73.76" r="2.6" fill="#306bc8" fill-opacity="0.9"/>
<circle cx="332.25" cy="72.50" r="2.6" fill="#e5bd26" fill-opacity="0.9"/>
<circle cx="335.43" cy="68.80" r="2.6" fill="#e5bd26" fill-opacity="0.9"/>
<circle cx="335.57" cy="72.50" r="2.6" fill="#306bc8" fill-opacity="0.9"/>
<circle cx="338.60" cy="61.80" r="2.6" fill="#e5bd26" fill-opacity="0.9"/>
<circle cx="338.75" cy="70.50" r="2.6" fill="#306bc8" fill-opacity="0.9"/>
<circle cx="341.78" cy="50.30" r="2.6" fill="#e5bd26" fill-opacity="0.9"/>
<circle cx="341.93" cy="61.50" r="2.6" fill="#306bc8" fill-opacity="0.9"/>
</g>
<text x="8.0" y="199.0" textLength="9.2" lengthAdjust="spacingAndGlyphs" style="font-family:'Liberation Sans',sans-serif;font-size:14px;font-weight:700" fill="#000">B</text>
<text transform="translate(27.6,252.95) rotate(-89.9)" text-anchor="middle" textLength="51.6" lengthAdjust="spacingAndGlyphs" style="font-family:'Liberation Sans',sans-serif;font-size:10.0px" fill="#231f20" stroke="#231f20" stroke-width="0.3">Urinary PGIM</text>
<text transform="translate(40.7,253.20) rotate(-89.9)" text-anchor="middle" textLength="66.3" lengthAdjust="spacingAndGlyphs" style="font-family:'Liberation Sans',sans-serif;font-size:10.0px" fill="#231f20" stroke="#231f20" stroke-width="0.3">pg/mg creatinine</text>
<line x1="74.5" y1="202.75" x2="74.5" y2="303.40" stroke="#000" stroke-width="1.1"/>
<line x1="71.20" y1="207.35" x2="74.5" y2="207.35" stroke="#000" stroke-width="1"/>
<text transform="translate(67.90,210.15) rotate(0.1)" text-anchor="end" textLength="20.80" lengthAdjust="spacingAndGlyphs" style="font-family:'Liberation Sans',sans-serif;font-size:9.4px" fill="#231f20" stroke="#231f20" stroke-width="0.2">2500</text>
<line x1="71.20" y1="220.80" x2="74.5" y2="220.80" stroke="#000" stroke-width="1"/>
<text transform="translate(67.90,223.60) rotate(0.1)" text-anchor="end" textLength="20.80" lengthAdjust="spacingAndGlyphs" style="font-family:'Liberation Sans',sans-serif;font-size:9.4px" fill="#231f20" stroke="#231f20" stroke-width="0.2">1000</text>
<line x1="71.20" y1="230.97" x2="74.5" y2="230.97" stroke="#000" stroke-width="1"/>
<text transform="translate(67.90,233.77) rotate(0.1)" text-anchor="end" textLength="15.60" lengthAdjust="spacingAndGlyphs" style="font-family:'Liberation Sans',sans-serif;font-size:9.4px" fill="#231f20" stroke="#231f20" stroke-width="0.2">500</text>
<line x1="71.20" y1="241.15" x2="74.5" y2="241.15" stroke="#000" stroke-width="1"/>
<text transform="translate(67.90,243.95) rotate(0.1)" text-anchor="end" textLength="15.60" lengthAdjust="spacingAndGlyphs" style="font-family:'Liberation Sans',sans-serif;font-size:9.4px" fill="#231f20" stroke="#231f20" stroke-width="0.2">250</text>
<line x1="71.20" y1="254.60" x2="74.5" y2="254.60" stroke="#000" stroke-width="1"/>
<text transform="translate(67.90,257.40) rotate(0.1)" text-anchor="end" textLength="15.60" lengthAdjust="spacingAndGlyphs" style="font-family:'Liberation Sans',sans-serif;font-size:9.4px" fill="#231f20" stroke="#231f20" stroke-width="0.2">100</text>
<line x1="71.20" y1="264.77" x2="74.5" y2="264.77" stroke="#000" stroke-width="1"/>
<text transform="translate(67.90,267.57) rotate(0.1)" text-anchor="end" textLength="10.40" lengthAdjust="spacingAndGlyphs" style="font-family:'Liberation Sans',sans-serif;font-size:9.4px" fill="#231f20" stroke="#231f20" stroke-width="0.2">50</text>
<line x1="71.20" y1="274.95" x2="74.5" y2="274.95" stroke="#000" stroke-width="1"/>
<text transform="translate(67.90,277.75) rotate(0.1)" text-anchor="end" textLength="10.40" lengthAdjust="spacingAndGlyphs" style="font-family:'Liberation Sans',sans-serif;font-size:9.4px" fill="#231f20" stroke="#231f20" stroke-width="0.2">25</text>
<line x1="71.20" y1="288.40" x2="74.5" y2="288.40" stroke="#000" stroke-width="1"/>
<text transform="translate(67.90,291.20) rotate(0.1)" text-anchor="end" textLength="10.40" lengthAdjust="spacingAndGlyphs" style="font-family:'Liberation Sans',sans-serif;font-size:9.4px" fill="#231f20" stroke="#231f20" stroke-width="0.2">10</text>
<line x1="71.20" y1="298.57" x2="74.5" y2="298.57" stroke="#000" stroke-width="1"/>
<text transform="translate(67.90,301.37) rotate(0.1)" text-anchor="end" textLength="5.20" lengthAdjust="spacingAndGlyphs" style="font-family:'Liberation Sans',sans-serif;font-size:9.4px" fill="#231f20" stroke="#231f20" stroke-width="0.2">5</text>
<line x1="413.5" y1="202.75" x2="413.5" y2="303.40" stroke="#000" stroke-width="1.1"/>
<line x1="410.20" y1="207.35" x2="413.5" y2="207.35" stroke="#000" stroke-width="1"/>
<text transform="translate(406.10,210.15) rotate(0.1)" text-anchor="end" textLength="20.80" lengthAdjust="spacingAndGlyphs" style="font-family:'Liberation Sans',sans-serif;font-size:9.4px" fill="#231f20" stroke="#231f20" stroke-width="0.2">2500</text>
<line x1="410.20" y1="220.80" x2="413.5" y2="220.80" stroke="#000" stroke-width="1"/>
<text transform="translate(406.10,223.60) rotate(0.1)" text-anchor="end" textLength="20.80" lengthAdjust="spacingAndGlyphs" style="font-family:'Liberation Sans',sans-serif;font-size:9.4px" fill="#231f20" stroke="#231f20" stroke-width="0.2">1000</text>
<line x1="410.20" y1="230.97" x2="413.5" y2="230.97" stroke="#000" stroke-width="1"/>
<text transform="translate(406.10,233.77) rotate(0.1)" text-anchor="end" textLength="15.60" lengthAdjust="spacingAndGlyphs" style="font-family:'Liberation Sans',sans-serif;font-size:9.4px" fill="#231f20" stroke="#231f20" stroke-width="0.2">500</text>
<line x1="410.20" y1="241.15" x2="413.5" y2="241.15" stroke="#000" stroke-width="1"/>
<text transform="translate(406.10,243.95) rotate(0.1)" text-anchor="end" textLength="15.60" lengthAdjust="spacingAndGlyphs" style="font-family:'Liberation Sans',sans-serif;font-size:9.4px" fill="#231f20" stroke="#231f20" stroke-width="0.2">250</text>
<line x1="410.20" y1="254.60" x2="413.5" y2="254.60" stroke="#000" stroke-width="1"/>
<text transform="translate(406.10,257.40) rotate(0.1)" text-anchor="end" textLength="15.60" lengthAdjust="spacingAndGlyphs" style="font-family:'Liberation Sans',sans-serif;font-size:9.4px" fill="#231f20" stroke="#231f20" stroke-width="0.2">100</text>
<line x1="410.20" y1="264.77" x2="413.5" y2="264.77" stroke="#000" stroke-width="1"/>
<text transform="translate(406.10,267.57) rotate(0.1)" text-anchor="end" textLength="10.40" lengthAdjust="spacingAndGlyphs" style="font-family:'Liberation Sans',sans-serif;font-size:9.4px" fill="#231f20" stroke="#231f20" stroke-width="0.2">50</text>
<line x1="410.20" y1="274.95" x2="413.5" y2="274.95" stroke="#000" stroke-width="1"/>
<text transform="translate(406.10,277.75) rotate(0.1)" text-anchor="end" textLength="10.40" lengthAdjust="spacingAndGlyphs" style="font-family:'Liberation Sans',sans-serif;font-size:9.4px" fill="#231f20" stroke="#231f20" stroke-width="0.2">25</text>
<line x1="410.20" y1="288.40" x2="413.5" y2="288.40" stroke="#000" stroke-width="1"/>
<text transform="translate(406.10,291.20) rotate(0.1)" text-anchor="end" textLength="10.40" lengthAdjust="spacingAndGlyphs" style="font-family:'Liberation Sans',sans-serif;font-size:9.4px" fill="#231f20" stroke="#231f20" stroke-width="0.2">10</text>
<line x1="410.20" y1="298.57" x2="413.5" y2="298.57" stroke="#000" stroke-width="1"/>
<text transform="translate(406.10,301.37) rotate(0.1)" text-anchor="end" textLength="5.20" lengthAdjust="spacingAndGlyphs" style="font-family:'Liberation Sans',sans-serif;font-size:9.4px" fill="#231f20" stroke="#231f20" stroke-width="0.2">5</text>
<line x1="74" y1="302.85" x2="367" y2="302.85" stroke="#000" stroke-width="1.1"/>
<line x1="84.50" y1="302.85" x2="84.50" y2="306.35" stroke="#000" stroke-width="1"/>
<text transform="translate(84.50,317.65) rotate(0.1)" text-anchor="middle" textLength="5.20" lengthAdjust="spacingAndGlyphs" style="font-family:'Liberation Sans',sans-serif;font-size:9.4px" fill="#231f20" stroke="#231f20" stroke-width="0.2">0</text>
<line x1="100.38" y1="302.85" x2="100.38" y2="306.35" stroke="#000" stroke-width="1"/>
<text transform="translate(100.38,317.65) rotate(0.1)" text-anchor="middle" textLength="5.20" lengthAdjust="spacingAndGlyphs" style="font-family:'Liberation Sans',sans-serif;font-size:9.4px" fill="#231f20" stroke="#231f20" stroke-width="0.2">5</text>
<line x1="116.25" y1="302.85" x2="116.25" y2="306.35" stroke="#000" stroke-width="1"/>
<text transform="translate(116.25,317.65) rotate(0.1)" text-anchor="middle" textLength="10.40" lengthAdjust="spacingAndGlyphs" style="font-family:'Liberation Sans',sans-serif;font-size:9.4px" fill="#231f20" stroke="#231f20" stroke-width="0.2">10</text>
<line x1="132.12" y1="302.85" x2="132.12" y2="306.35" stroke="#000" stroke-width="1"/>
<text transform="translate(132.12,317.65) rotate(0.1)" text-anchor="middle" textLength="10.40" lengthAdjust="spacingAndGlyphs" style="font-family:'Liberation Sans',sans-serif;font-size:9.4px" fill="#231f20" stroke="#231f20" stroke-width="0.2">15</text>
<line x1="148.00" y1="302.85" x2="148.00" y2="306.35" stroke="#000" stroke-width="1"/>
<text transform="translate(148.00,317.65) rotate(0.1)" text-anchor="middle" textLength="10.40" lengthAdjust="spacingAndGlyphs" style="font-family:'Liberation Sans',sans-serif;font-size:9.4px" fill="#231f20" stroke="#231f20" stroke-width="0.2">20</text>
<line x1="163.88" y1="302.85" x2="163.88" y2="306.35" stroke="#000" stroke-width="1"/>
<text transform="translate(163.88,317.65) rotate(0.1)" text-anchor="middle" textLength="10.40" lengthAdjust="spacingAndGlyphs" style="font-family:'Liberation Sans',sans-serif;font-size:9.4px" fill="#231f20" stroke="#231f20" stroke-width="0.2">25</text>
<line x1="179.75" y1="302.85" x2="179.75" y2="306.35" stroke="#000" stroke-width="1"/>
<text transform="translate(179.75,317.65) rotate(0.1)" text-anchor="middle" textLength="10.40" lengthAdjust="spacingAndGlyphs" style="font-family:'Liberation Sans',sans-serif;font-size:9.4px" fill="#231f20" stroke="#231f20" stroke-width="0.2">30</text>
<line x1="195.62" y1="302.85" x2="195.62" y2="306.35" stroke="#000" stroke-width="1"/>
<text transform="translate(195.62,317.65) rotate(0.1)" text-anchor="middle" textLength="10.40" lengthAdjust="spacingAndGlyphs" style="font-family:'Liberation Sans',sans-serif;font-size:9.4px" fill="#231f20" stroke="#231f20" stroke-width="0.2">35</text>
<line x1="211.50" y1="302.85" x2="211.50" y2="306.35" stroke="#000" stroke-width="1"/>
<text transform="translate(211.50,317.65) rotate(0.1)" text-anchor="middle" textLength="10.40" lengthAdjust="spacingAndGlyphs" style="font-family:'Liberation Sans',sans-serif;font-size:9.4px" fill="#231f20" stroke="#231f20" stroke-width="0.2">40</text>
<line x1="227.38" y1="302.85" x2="227.38" y2="306.35" stroke="#000" stroke-width="1"/>
<text transform="translate(227.38,317.65) rotate(0.1)" text-anchor="middle" textLength="10.40" lengthAdjust="spacingAndGlyphs" style="font-family:'Liberation Sans',sans-serif;font-size:9.4px" fill="#231f20" stroke="#231f20" stroke-width="0.2">45</text>
<line x1="243.25" y1="302.85" x2="243.25" y2="306.35" stroke="#000" stroke-width="1"/>
<text transform="translate(243.25,317.65) rotate(0.1)" text-anchor="middle" textLength="10.40" lengthAdjust="spacingAndGlyphs" style="font-family:'Liberation Sans',sans-serif;font-size:9.4px" fill="#231f20" stroke="#231f20" stroke-width="0.2">50</text>
<line x1="259.12" y1="302.85" x2="259.12" y2="306.35" stroke="#000" stroke-width="1"/>
<text transform="translate(259.12,317.65) rotate(0.1)" text-anchor="middle" textLength="10.40" lengthAdjust="spacingAndGlyphs" style="font-family:'Liberation Sans',sans-serif;font-size:9.4px" fill="#231f20" stroke="#231f20" stroke-width="0.2">55</text>
<line x1="275.00" y1="302.85" x2="275.00" y2="306.35" stroke="#000" stroke-width="1"/>
<text transform="translate(275.00,317.65) rotate(0.1)" text-anchor="middle" textLength="10.40" lengthAdjust="spacingAndGlyphs" style="font-family:'Liberation Sans',sans-serif;font-size:9.4px" fill="#231f20" stroke="#231f20" stroke-width="0.2">60</text>
<line x1="290.88" y1="302.85" x2="290.88" y2="306.35" stroke="#000" stroke-width="1"/>
<text transform="translate(290.88,317.65) rotate(0.1)" text-anchor="middle" textLength="10.40" lengthAdjust="spacingAndGlyphs" style="font-family:'Liberation Sans',sans-serif;font-size:9.4px" fill="#231f20" stroke="#231f20" stroke-width="0.2">65</text>
<line x1="306.75" y1="302.85" x2="306.75" y2="306.35" stroke="#000" stroke-width="1"/>
<text transform="translate(306.75,317.65) rotate(0.1)" text-anchor="middle" textLength="10.40" lengthAdjust="spacingAndGlyphs" style="font-family:'Liberation Sans',sans-serif;font-size:9.4px" fill="#231f20" stroke="#231f20" stroke-width="0.2">70</text>
<line x1="322.62" y1="302.85" x2="322.62" y2="306.35" stroke="#000" stroke-width="1"/>
<text transform="translate(322.62,317.65) rotate(0.1)" text-anchor="middle" textLength="10.40" lengthAdjust="spacingAndGlyphs" style="font-family:'Liberation Sans',sans-serif;font-size:9.4px" fill="#231f20" stroke="#231f20" stroke-width="0.2">75</text>
<text x="221" y="333.15" text-anchor="middle" textLength="27" lengthAdjust="spacingAndGlyphs" style="font-family:'Liberation Sans',sans-serif;font-size:11px" fill="#231f20" stroke="#231f20" stroke-width="0.3">Patient</text>
<line x1="413" y1="302.85" x2="512" y2="302.85" stroke="#000" stroke-width="1.1"/>
<line x1="417.90" y1="302.85" x2="417.90" y2="306.35" stroke="#000" stroke-width="1"/>
<text transform="translate(417.90,317.65) rotate(0.1)" text-anchor="middle" textLength="13.00" lengthAdjust="spacingAndGlyphs" style="font-family:'Liberation Sans',sans-serif;font-size:9.4px" fill="#231f20" stroke="#231f20" stroke-width="0.2">0.0</text>
<line x1="444.75" y1="302.85" x2="444.75" y2="306.35" stroke="#000" stroke-width="1"/>
<text transform="translate(444.75,317.65) rotate(0.1)" text-anchor="middle" textLength="13.00" lengthAdjust="spacingAndGlyphs" style="font-family:'Liberation Sans',sans-serif;font-size:9.4px" fill="#231f20" stroke="#231f20" stroke-width="0.2">0.1</text>
<line x1="471.60" y1="302.85" x2="471.60" y2="306.35" stroke="#000" stroke-width="1"/>
<text transform="translate(471.60,317.65) rotate(0.1)" text-anchor="middle" textLength="13.00" lengthAdjust="spacingAndGlyphs" style="font-family:'Liberation Sans',sans-serif;font-size:9.4px" fill="#231f20" stroke="#231f20" stroke-width="0.2">0.2</text>
<line x1="498.45" y1="302.85" x2="498.45" y2="306.35" stroke="#000" stroke-width="1"/>
<text transform="translate(498.45,317.65) rotate(0.1)" text-anchor="middle" textLength="13.00" lengthAdjust="spacingAndGlyphs" style="font-family:'Liberation Sans',sans-serif;font-size:9.4px" fill="#231f20" stroke="#231f20" stroke-width="0.2">0.3</text>
<text x="462.6" y="333.15" text-anchor="middle" textLength="29" lengthAdjust="spacingAndGlyphs" style="font-family:'Liberation Sans',sans-serif;font-size:11px" fill="#231f20" stroke="#231f20" stroke-width="0.3">Density</text>
<clipPath id="c2_1"><path d="M417.90,207.10 L417.90,207.10 C418.00,207.13 418.08,207.03 418.50,207.30 C418.92,207.57 419.87,208.00 420.40,208.70 C420.93,209.40 421.38,210.18 421.70,211.50 C422.02,212.82 422.15,214.92 422.30,216.60 C422.45,218.28 422.40,220.35 422.60,221.60 C422.80,222.85 422.50,223.27 423.50,224.10 C424.50,224.93 426.70,225.70 428.60,226.60 C430.50,227.50 432.80,228.55 434.90,229.50 C437.00,230.45 439.42,231.45 441.20,232.30 C442.98,233.15 443.92,233.75 445.60,234.60 C447.28,235.45 448.97,236.23 451.30,237.40 C453.63,238.57 457.07,240.47 459.60,241.60 C462.13,242.73 463.93,243.40 466.50,244.20 C469.07,245.00 472.30,245.77 475.00,246.40 C477.70,247.03 480.13,247.48 482.70,248.00 C485.27,248.52 487.83,249.02 490.40,249.50 C492.97,249.98 496.18,250.53 498.10,250.90 C500.02,251.27 500.62,251.40 501.90,251.70 C503.18,252.00 504.83,252.35 505.80,252.70 C506.77,253.05 507.70,253.35 507.70,253.80 C507.70,254.25 507.02,254.88 505.80,255.40 C504.58,255.92 502.33,256.38 500.40,256.90 C498.47,257.42 496.13,258.05 494.20,258.50 C492.27,258.95 490.33,259.28 488.80,259.60 C487.27,259.92 485.88,260.22 485.00,260.40 C484.12,260.58 484.72,260.45 483.50,260.70 C482.28,260.95 480.12,261.38 477.70,261.90 C475.28,262.42 471.73,263.08 469.00,263.80 C466.27,264.52 462.98,265.37 461.30,266.20 C459.62,267.03 459.53,267.93 458.90,268.80 C458.27,269.67 458.22,270.60 457.50,271.40 C456.78,272.20 455.88,273.00 454.60,273.60 C453.32,274.20 451.40,274.45 449.80,275.00 C448.20,275.55 446.38,276.38 445.00,276.90 C443.62,277.42 443.73,277.42 441.50,278.10 C439.27,278.78 434.07,280.18 431.60,281.00 C429.13,281.82 428.17,282.25 426.70,283.00 C425.23,283.75 423.70,284.60 422.80,285.50 C421.90,286.40 421.63,287.27 421.30,288.40 C420.97,289.53 421.03,290.98 420.80,292.30 C420.57,293.62 420.30,295.32 419.90,296.30 C419.50,297.28 418.73,297.82 418.40,298.20 C418.07,298.58 417.98,298.53 417.90,298.60 L417.90,298.60 Z"/></clipPath>
<path d="M417.90,207.10 L417.90,207.10 C418.00,207.13 418.08,207.03 418.50,207.30 C418.92,207.57 419.87,208.00 420.40,208.70 C420.93,209.40 421.38,210.18 421.70,211.50 C422.02,212.82 422.15,214.92 422.30,216.60 C422.45,218.28 422.40,220.35 422.60,221.60 C422.80,222.85 422.50,223.27 423.50,224.10 C424.50,224.93 426.70,225.70 428.60,226.60 C430.50,227.50 432.80,228.55 434.90,229.50 C437.00,230.45 439.42,231.45 441.20,232.30 C442.98,233.15 443.92,233.75 445.60,234.60 C447.28,235.45 448.97,236.23 451.30,237.40 C453.63,238.57 457.07,240.47 459.60,241.60 C462.13,242.73 463.93,243.40 466.50,244.20 C469.07,245.00 472.30,245.77 475.00,246.40 C477.70,247.03 480.13,247.48 482.70,248.00 C485.27,248.52 487.83,249.02 490.40,249.50 C492.97,249.98 496.18,250.53 498.10,250.90 C500.02,251.27 500.62,251.40 501.90,251.70 C503.18,252.00 504.83,252.35 505.80,252.70 C506.77,253.05 507.70,253.35 507.70,253.80 C507.70,254.25 507.02,254.88 505.80,255.40 C504.58,255.92 502.33,256.38 500.40,256.90 C498.47,257.42 496.13,258.05 494.20,258.50 C492.27,258.95 490.33,259.28 488.80,259.60 C487.27,259.92 485.88,260.22 485.00,260.40 C484.12,260.58 484.72,260.45 483.50,260.70 C482.28,260.95 480.12,261.38 477.70,261.90 C475.28,262.42 471.73,263.08 469.00,263.80 C466.27,264.52 462.98,265.37 461.30,266.20 C459.62,267.03 459.53,267.93 458.90,268.80 C458.27,269.67 458.22,270.60 457.50,271.40 C456.78,272.20 455.88,273.00 454.60,273.60 C453.32,274.20 451.40,274.45 449.80,275.00 C448.20,275.55 446.38,276.38 445.00,276.90 C443.62,277.42 443.73,277.42 441.50,278.10 C439.27,278.78 434.07,280.18 431.60,281.00 C429.13,281.82 428.17,282.25 426.70,283.00 C425.23,283.75 423.70,284.60 422.80,285.50 C421.90,286.40 421.63,287.27 421.30,288.40 C420.97,289.53 421.03,290.98 420.80,292.30 C420.57,293.62 420.30,295.32 419.90,296.30 C419.50,297.28 418.73,297.82 418.40,298.20 C418.07,298.58 417.98,298.53 417.90,298.60 L417.90,298.60 Z" fill="#82b6de"/>
<path d="M417.90,207.20 L417.90,207.20 C418.08,207.42 418.73,207.98 419.00,208.50 C419.27,209.02 419.32,208.95 419.50,210.30 C419.68,211.65 419.95,214.72 420.10,216.60 C420.25,218.48 420.13,220.28 420.40,221.60 C420.67,222.92 420.87,223.58 421.70,224.50 C422.53,225.42 423.73,226.17 425.40,227.10 C427.07,228.03 429.60,229.18 431.70,230.10 C433.80,231.02 435.68,231.72 438.00,232.60 C440.32,233.48 443.38,234.57 445.60,235.40 C447.82,236.23 448.57,236.80 451.30,237.60 C454.03,238.40 458.05,239.35 462.00,240.20 C465.95,241.05 471.55,242.03 475.00,242.70 C478.45,243.37 480.13,243.62 482.70,244.20 C485.27,244.78 488.22,245.55 490.40,246.20 C492.58,246.85 494.52,247.50 495.80,248.10 C497.08,248.70 497.82,249.18 498.10,249.80 C498.38,250.42 497.77,251.25 497.50,251.80 C497.23,252.35 497.30,252.50 496.50,253.10 C495.70,253.70 493.98,254.57 492.70,255.40 C491.42,256.23 490.08,257.27 488.80,258.10 C487.52,258.93 485.73,259.95 485.00,260.40 C484.27,260.85 484.82,260.33 484.40,260.80 C483.98,261.27 483.62,262.38 482.50,263.20 C481.38,264.02 479.95,264.95 477.70,265.70 C475.45,266.45 472.05,266.98 469.00,267.70 C465.95,268.42 461.32,269.38 459.40,270.00 C457.48,270.62 458.30,271.05 457.50,271.40 C456.70,271.75 456.68,271.47 454.60,272.10 C452.52,272.73 447.18,274.45 445.00,275.20 C442.82,275.95 443.73,275.87 441.50,276.60 C439.27,277.33 434.07,278.62 431.60,279.60 C429.13,280.58 428.00,281.68 426.70,282.50 C425.40,283.32 424.62,283.85 423.80,284.50 C422.98,285.15 422.38,285.58 421.80,286.40 C421.22,287.22 420.70,288.42 420.30,289.40 C419.90,290.38 419.72,290.83 419.40,292.30 C419.08,293.77 418.65,297.15 418.40,298.20 C418.15,299.25 417.98,298.53 417.90,298.60 L417.90,298.60 Z" fill="#f6dc7a"/>
<path d="M417.90,207.20 L417.90,207.20 C418.08,207.42 418.73,207.98 419.00,208.50 C419.27,209.02 419.32,208.95 419.50,210.30 C419.68,211.65 419.95,214.72 420.10,216.60 C420.25,218.48 420.13,220.28 420.40,221.60 C420.67,222.92 420.87,223.58 421.70,224.50 C422.53,225.42 423.73,226.17 425.40,227.10 C427.07,228.03 429.60,229.18 431.70,230.10 C433.80,231.02 435.68,231.72 438.00,232.60 C440.32,233.48 443.38,234.57 445.60,235.40 C447.82,236.23 448.57,236.80 451.30,237.60 C454.03,238.40 458.05,239.35 462.00,240.20 C465.95,241.05 471.55,242.03 475.00,242.70 C478.45,243.37 480.13,243.62 482.70,244.20 C485.27,244.78 488.22,245.55 490.40,246.20 C492.58,246.85 494.52,247.50 495.80,248.10 C497.08,248.70 497.82,249.18 498.10,249.80 C498.38,250.42 497.77,251.25 497.50,251.80 C497.23,252.35 497.30,252.50 496.50,253.10 C495.70,253.70 493.98,254.57 492.70,255.40 C491.42,256.23 490.08,257.27 488.80,258.10 C487.52,258.93 485.73,259.95 485.00,260.40 C484.27,260.85 484.82,260.33 484.40,260.80 C483.98,261.27 483.62,262.38 482.50,263.20 C481.38,264.02 479.95,264.95 477.70,265.70 C475.45,266.45 472.05,266.98 469.00,267.70 C465.95,268.42 461.32,269.38 459.40,270.00 C457.48,270.62 458.30,271.05 457.50,271.40 C456.70,271.75 456.68,271.47 454.60,272.10 C452.52,272.73 447.18,274.45 445.00,275.20 C442.82,275.95 443.73,275.87 441.50,276.60 C439.27,277.33 434.07,278.62 431.60,279.60 C429.13,280.58 428.00,281.68 426.70,282.50 C425.40,283.32 424.62,283.85 423.80,284.50 C422.98,285.15 422.38,285.58 421.80,286.40 C421.22,287.22 420.70,288.42 420.30,289.40 C419.90,290.38 419.72,290.83 419.40,292.30 C419.08,293.77 418.65,297.15 418.40,298.20 C418.15,299.25 417.98,298.53 417.90,298.60 L417.90,298.60 Z" fill="#7ca372" clip-path="url(#c2_1)"/>
<line x1="418.0" y1="207.10" x2="418.0" y2="298.60" stroke="#333" stroke-width="1.4"/>
<path d="M417.90,207.10 C418.00,207.13 418.08,207.03 418.50,207.30 C418.92,207.57 419.87,208.00 420.40,208.70 C420.93,209.40 421.38,210.18 421.70,211.50 C422.02,212.82 422.15,214.92 422.30,216.60 C422.45,218.28 422.40,220.35 422.60,221.60 C422.80,222.85 422.50,223.27 423.50,224.10 C424.50,224.93 426.70,225.70 428.60,226.60 C430.50,227.50 432.80,228.55 434.90,229.50 C437.00,230.45 439.42,231.45 441.20,232.30 C442.98,233.15 443.92,233.75 445.60,234.60 C447.28,235.45 448.97,236.23 451.30,237.40 C453.63,238.57 457.07,240.47 459.60,241.60 C462.13,242.73 463.93,243.40 466.50,244.20 C469.07,245.00 472.30,245.77 475.00,246.40 C477.70,247.03 480.13,247.48 482.70,248.00 C485.27,248.52 487.83,249.02 490.40,249.50 C492.97,249.98 496.18,250.53 498.10,250.90 C500.02,251.27 500.62,251.40 501.90,251.70 C503.18,252.00 504.83,252.35 505.80,252.70 C506.77,253.05 507.70,253.35 507.70,253.80 C507.70,254.25 507.02,254.88 505.80,255.40 C504.58,255.92 502.33,256.38 500.40,256.90 C498.47,257.42 496.13,258.05 494.20,258.50 C492.27,258.95 490.33,259.28 488.80,259.60 C487.27,259.92 485.88,260.22 485.00,260.40 C484.12,260.58 484.72,260.45 483.50,260.70 C482.28,260.95 480.12,261.38 477.70,261.90 C475.28,262.42 471.73,263.08 469.00,263.80 C466.27,264.52 462.98,265.37 461.30,266.20 C459.62,267.03 459.53,267.93 458.90,268.80 C458.27,269.67 458.22,270.60 457.50,271.40 C456.78,272.20 455.88,273.00 454.60,273.60 C453.32,274.20 451.40,274.45 449.80,275.00 C448.20,275.55 446.38,276.38 445.00,276.90 C443.62,277.42 443.73,277.42 441.50,278.10 C439.27,278.78 434.07,280.18 431.60,281.00 C429.13,281.82 428.17,282.25 426.70,283.00 C425.23,283.75 423.70,284.60 422.80,285.50 C421.90,286.40 421.63,287.27 421.30,288.40 C420.97,289.53 421.03,290.98 420.80,292.30 C420.57,293.62 420.30,295.32 419.90,296.30 C419.50,297.28 418.73,297.82 418.40,298.20 C418.07,298.58 417.98,298.53 417.90,298.60" fill="none" stroke="#000" stroke-width="1.1" stroke-linejoin="round"/>
<path d="M417.90,207.20 C418.08,207.42 418.73,207.98 419.00,208.50 C419.27,209.02 419.32,208.95 419.50,210.30 C419.68,211.65 419.95,214.72 420.10,216.60 C420.25,218.48 420.13,220.28 420.40,221.60 C420.67,222.92 420.87,223.58 421.70,224.50 C422.53,225.42 423.73,226.17 425.40,227.10 C427.07,228.03 429.60,229.18 431.70,230.10 C433.80,231.02 435.68,231.72 438.00,232.60 C440.32,233.48 443.38,234.57 445.60,235.40 C447.82,236.23 448.57,236.80 451.30,237.60 C454.03,238.40 458.05,239.35 462.00,240.20 C465.95,241.05 471.55,242.03 475.00,242.70 C478.45,243.37 480.13,243.62 482.70,244.20 C485.27,244.78 488.22,245.55 490.40,246.20 C492.58,246.85 494.52,247.50 495.80,248.10 C497.08,248.70 497.82,249.18 498.10,249.80 C498.38,250.42 497.77,251.25 497.50,251.80 C497.23,252.35 497.30,252.50 496.50,253.10 C495.70,253.70 493.98,254.57 492.70,255.40 C491.42,256.23 490.08,257.27 488.80,258.10 C487.52,258.93 485.73,259.95 485.00,260.40 C484.27,260.85 484.82,260.33 484.40,260.80 C483.98,261.27 483.62,262.38 482.50,263.20 C481.38,264.02 479.95,264.95 477.70,265.70 C475.45,266.45 472.05,266.98 469.00,267.70 C465.95,268.42 461.32,269.38 459.40,270.00 C457.48,270.62 458.30,271.05 457.50,271.40 C456.70,271.75 456.68,271.47 454.60,272.10 C452.52,272.73 447.18,274.45 445.00,275.20 C442.82,275.95 443.73,275.87 441.50,276.60 C439.27,277.33 434.07,278.62 431.60,279.60 C429.13,280.58 428.00,281.68 426.70,282.50 C425.40,283.32 424.62,283.85 423.80,284.50 C422.98,285.15 422.38,285.58 421.80,286.40 C421.22,287.22 420.70,288.42 420.30,289.40 C419.90,290.38 419.72,290.83 419.40,292.30 C419.08,293.77 418.65,297.15 418.40,298.20 C418.15,299.25 417.98,298.53 417.90,298.60" fill="none" stroke="#000" stroke-width="1.1" stroke-linejoin="round"/>
<g filter="url(#soft)">
<circle cx="87.77" cy="286.50" r="2.6" fill="#e5bd26" fill-opacity="0.9"/>
<circle cx="87.92" cy="291.80" r="2.6" fill="#306bc8" fill-opacity="0.9"/>
<circle cx="91.10" cy="278.50" r="2.6" fill="#306bc8" fill-opacity="0.9"/>
<circle cx="90.95" cy="280.80" r="2.6" fill="#e5bd26" fill-opacity="0.9"/>
<circle cx="94.28" cy="277.51" r="2.6" fill="#306bc8" fill-opacity="0.9"/>
<circle cx="94.12" cy="278.31" r="2.6" fill="#e5bd26" fill-opacity="0.9"/>
<circle cx="97.45" cy="277.65" r="2.6" fill="#306bc8" fill-opacity="0.9"/>
<circle cx="97.30" cy="276.69" r="2.6" fill="#e5bd26" fill-opacity="0.9"/>
<circle cx="100.62" cy="276.37" r="2.6" fill="#306bc8" fill-opacity="0.9"/>
<circle cx="100.47" cy="274.75" r="2.6" fill="#e5bd26" fill-opacity="0.9"/>
<circle cx="103.80" cy="275.24" r="2.6" fill="#306bc8" fill-opacity="0.9"/>
<circle cx="103.65" cy="273.57" r="2.6" fill="#e5bd26" fill-opacity="0.9"/>
<circle cx="106.97" cy="273.89" r="2.6" fill="#306bc8" fill-opacity="0.9"/>
<circle cx="106.82" cy="272.53" r="2.6" fill="#e5bd26" fill-opacity="0.9"/>
<circle cx="110.15" cy="272.69" r="2.6" fill="#306bc8" fill-opacity="0.9"/>
<circle cx="110.00" cy="271.88" r="2.6" fill="#e5bd26" fill-opacity="0.9"/>
<circle cx="113.17" cy="269.41" r="2.6" fill="#e5bd26" fill-opacity="0.9"/>
<circle cx="113.33" cy="271.62" r="2.6" fill="#306bc8" fill-opacity="0.9"/>
<circle cx="116.50" cy="271.51" r="2.6" fill="#306bc8" fill-opacity="0.9"/>
<circle cx="116.35" cy="267.51" r="2.6" fill="#e5bd26" fill-opacity="0.9"/>
<circle cx="119.67" cy="271.48" r="2.6" fill="#306bc8" fill-opacity="0.9"/>
<circle cx="119.52" cy="267.68" r="2.6" fill="#e5bd26" fill-opacity="0.9"/>
<circle cx="122.70" cy="266.67" r="2.6" fill="#e5bd26" fill-opacity="0.9"/>
<circle cx="122.85" cy="271.09" r="2.6" fill="#306bc8" fill-opacity="0.9"/>
<circle cx="126.03" cy="270.59" r="2.6" fill="#306bc8" fill-opacity="0.9"/>
<circle cx="125.88" cy="266.76" r="2.6" fill="#e5bd26" fill-opacity="0.9"/>
<circle cx="129.20" cy="270.61" r="2.6" fill="#306bc8" fill-opacity="0.9"/>
<circle cx="129.05" cy="266.38" r="2.6" fill="#e5bd26" fill-opacity="0.9"/>
<circle cx="132.22" cy="266.03" r="2.6" fill="#e5bd26" fill-opacity="0.9"/>
<circle cx="132.38" cy="269.83" r="2.6" fill="#306bc8" fill-opacity="0.9"/>
<circle cx="135.40" cy="265.37" r="2.6" fill="#e5bd26" fill-opacity="0.9"/>
<circle cx="135.55" cy="269.19" r="2.6" fill="#306bc8" fill-opacity="0.9"/>
<circle cx="138.57" cy="265.60" r="2.6" fill="#e5bd26" fill-opacity="0.9"/>
<circle cx="138.72" cy="266.99" r="2.6" fill="#306bc8" fill-opacity="0.9"/>
<circle cx="141.90" cy="262.84" r="2.6" fill="#306bc8" fill-opacity="0.9"/>
<circle cx="141.75" cy="266.12" r="2.6" fill="#e5bd26" fill-opacity="0.9"/>
<circle cx="145.07" cy="262.65" r="2.6" fill="#306bc8" fill-opacity="0.9"/>
<circle cx="144.92" cy="264.95" r="2.6" fill="#e5bd26" fill-opacity="0.9"/>
<circle cx="148.10" cy="264.75" r="2.6" fill="#e5bd26" fill-opacity="0.9"/>
<circle cx="148.25" cy="260.89" r="2.6" fill="#306bc8" fill-opacity="0.9"/>
<circle cx="151.43" cy="260.84" r="2.6" fill="#306bc8" fill-opacity="0.9"/>
<circle cx="151.28" cy="264.38" r="2.6" fill="#e5bd26" fill-opacity="0.9"/>
<circle cx="154.60" cy="260.84" r="2.6" fill="#306bc8" fill-opacity="0.9"/>
<circle cx="154.45" cy="264.37" r="2.6" fill="#e5bd26" fill-opacity="0.9"/>
<circle cx="157.62" cy="264.74" r="2.6" fill="#e5bd26" fill-opacity="0.9"/>
<circle cx="157.77" cy="260.02" r="2.6" fill="#306bc8" fill-opacity="0.9"/>
<circle cx="160.95" cy="259.54" r="2.6" fill="#306bc8" fill-opacity="0.9"/>
<circle cx="160.80" cy="263.55" r="2.6" fill="#e5bd26" fill-opacity="0.9"/>
<circle cx="163.97" cy="262.90" r="2.6" fill="#e5bd26" fill-opacity="0.9"/>
<circle cx="164.12" cy="259.26" r="2.6" fill="#306bc8" fill-opacity="0.9"/>
<circle cx="167.15" cy="262.67" r="2.6" fill="#e5bd26" fill-opacity="0.9"/>
<circle cx="167.30" cy="259.62" r="2.6" fill="#306bc8" fill-opacity="0.9"/>
<circle cx="170.32" cy="261.53" r="2.6" fill="#e5bd26" fill-opacity="0.9"/>
<circle cx="170.47" cy="259.48" r="2.6" fill="#306bc8" fill-opacity="0.9"/>
<circle cx="173.65" cy="258.16" r="2.6" fill="#306bc8" fill-opacity="0.9"/>
<circle cx="173.50" cy="259.39" r="2.6" fill="#e5bd26" fill-opacity="0.9"/>
<circle cx="176.67" cy="258.33" r="2.6" fill="#e5bd26" fill-opacity="0.9"/>
<circle cx="176.82" cy="258.03" r="2.6" fill="#306bc8" fill-opacity="0.9"/>
<circle cx="179.85" cy="257.95" r="2.6" fill="#e5bd26" fill-opacity="0.9"/>
<circle cx="180.00" cy="257.24" r="2.6" fill="#306bc8" fill-opacity="0.9"/>
<circle cx="183.03" cy="257.22" r="2.6" fill="#e5bd26" fill-opacity="0.9"/>
<circle cx="183.18" cy="257.34" r="2.6" fill="#306bc8" fill-opacity="0.9"/>
<circle cx="186.35" cy="256.72" r="2.6" fill="#306bc8" fill-opacity="0.9"/>
<circle cx="186.20" cy="257.28" r="2.6" fill="#e5bd26" fill-opacity="0.9"/>
<circle cx="189.52" cy="256.18" r="2.6" fill="#306bc8" fill-opacity="0.9"/>
<circle cx="189.37" cy="257.09" r="2.6" fill="#e5bd26" fill-opacity="0.9"/>
<circle cx="192.70" cy="256.06" r="2.6" fill="#306bc8" fill-opacity="0.9"/>
<circle cx="192.55" cy="255.93" r="2.6" fill="#e5bd26" fill-opacity="0.9"/>
<circle cx="195.72" cy="256.10" r="2.6" fill="#e5bd26" fill-opacity="0.9"/>
<circle cx="195.88" cy="255.79" r="2.6" fill="#306bc8" fill-opacity="0.9"/>
<circle cx="199.05" cy="255.92" r="2.6" fill="#306bc8" fill-opacity="0.9"/>
<circle cx="198.90" cy="255.50" r="2.6" fill="#e5bd26" fill-opacity="0.9"/>
<circle cx="202.22" cy="255.05" r="2.6" fill="#306bc8" fill-opacity="0.9"/>
<circle cx="202.07" cy="255.56" r="2.6" fill="#e5bd26" fill-opacity="0.9"/>
<circle cx="205.25" cy="254.36" r="2.6" fill="#e5bd26" fill-opacity="0.9"/>
<circle cx="205.40" cy="254.93" r="2.6" fill="#306bc8" fill-opacity="0.9"/>
<circle cx="208.42" cy="254.76" r="2.6" fill="#e5bd26" fill-opacity="0.9"/>
<circle cx="208.57" cy="254.09" r="2.6" fill="#306bc8" fill-opacity="0.9"/>
<circle cx="211.75" cy="253.85" r="2.6" fill="#306bc8" fill-opacity="0.9"/>
<circle cx="211.60" cy="253.76" r="2.6" fill="#e5bd26" fill-opacity="0.9"/>
<circle cx="214.92" cy="254.00" r="2.6" fill="#306bc8" fill-opacity="0.9"/>
<circle cx="214.77" cy="253.83" r="2.6" fill="#e5bd26" fill-opacity="0.9"/>
<circle cx="217.95" cy="253.04" r="2.6" fill="#e5bd26" fill-opacity="0.9"/>
<circle cx="218.10" cy="253.10" r="2.6" fill="#306bc8" fill-opacity="0.9"/>
<circle cx="221.28" cy="252.85" r="2.6" fill="#306bc8" fill-opacity="0.9"/>
<circle cx="221.12" cy="252.68" r="2.6" fill="#e5bd26" fill-opacity="0.9"/>
<circle cx="224.45" cy="252.76" r="2.6" fill="#306bc8" fill-opacity="0.9"/>
<circle cx="224.30" cy="252.05" r="2.6" fill="#e5bd26" fill-opacity="0.9"/>
<circle cx="227.62" cy="252.59" r="2.6" fill="#306bc8" fill-opacity="0.9"/>
<circle cx="227.47" cy="251.12" r="2.6" fill="#e5bd26" fill-opacity="0.9"/>
<circle cx="230.80" cy="251.68" r="2.6" fill="#306bc8" fill-opacity="0.9"/>
<circle cx="230.65" cy="250.91" r="2.6" fill="#e5bd26" fill-opacity="0.9"/>
<circle cx="233.82" cy="250.82" r="2.6" fill="#e5bd26" fill-opacity="0.9"/>
<circle cx="233.97" cy="251.29" r="2.6" fill="#306bc8" fill-opacity="0.9"/>
<circle cx="237.00" cy="250.77" r="2.6" fill="#e5bd26" fill-opacity="0.9"/>
<circle cx="237.15" cy="251.13" r="2.6" fill="#306bc8" fill-opacity="0.9"/>
<circle cx="240.17" cy="249.96" r="2.6" fill="#e5bd26" fill-opacity="0.9"/>
<circle cx="240.32" cy="250.86" r="2.6" fill="#306bc8" fill-opacity="0.9"/>
<circle cx="243.50" cy="250.93" r="2.6" fill="#306bc8" fill-opacity="0.9"/>
<circle cx="243.35" cy="249.94" r="2.6" fill="#e5bd26" fill-opacity="0.9"/>
<circle cx="246.52" cy="250.02" r="2.6" fill="#e5bd26" fill-opacity="0.9"/>
<circle cx="246.67" cy="249.53" r="2.6" fill="#306bc8" fill-opacity="0.9"/>
<circle cx="249.70" cy="249.04" r="2.6" fill="#e5bd26" fill-opacity="0.9"/>
<circle cx="249.85" cy="249.44" r="2.6" fill="#306bc8" fill-opacity="0.9"/>
<circle cx="253.02" cy="249.34" r="2.6" fill="#306bc8" fill-opacity="0.9"/>
<circle cx="252.87" cy="248.59" r="2.6" fill="#e5bd26" fill-opacity="0.9"/>
<circle cx="256.20" cy="249.10" r="2.6" fill="#306bc8" fill-opacity="0.9"/>
<circle cx="256.05" cy="248.11" r="2.6" fill="#e5bd26" fill-opacity="0.9"/>
<circle cx="259.38" cy="248.51" r="2.6" fill="#306bc8" fill-opacity="0.9"/>
<circle cx="259.23" cy="248.14" r="2.6" fill="#e5bd26" fill-opacity="0.9"/>
<circle cx="262.55" cy="248.09" r="2.6" fill="#306bc8" fill-opacity="0.9"/>
<circle cx="262.40" cy="248.00" r="2.6" fill="#e5bd26" fill-opacity="0.9"/>
<circle cx="265.73" cy="247.70" r="2.6" fill="#306bc8" fill-opacity="0.9"/>
<circle cx="265.58" cy="247.08" r="2.6" fill="#e5bd26" fill-opacity="0.9"/>
<circle cx="268.75" cy="247.04" r="2.6" fill="#e5bd26" fill-opacity="0.9"/>
<circle cx="268.90" cy="247.12" r="2.6" fill="#306bc8" fill-opacity="0.9"/>
<circle cx="271.93" cy="246.41" r="2.6" fill="#e5bd26" fill-opacity="0.9"/>
<circle cx="272.07" cy="245.69" r="2.6" fill="#306bc8" fill-opacity="0.9"/>
<circle cx="275.25" cy="245.34" r="2.6" fill="#306bc8" fill-opacity="0.9"/>
<circle cx="275.10" cy="246.40" r="2.6" fill="#e5bd26" fill-opacity="0.9"/>
<circle cx="278.27" cy="245.08" r="2.6" fill="#e5bd26" fill-opacity="0.9"/>
<circle cx="278.42" cy="244.89" r="2.6" fill="#306bc8" fill-opacity="0.9"/>
<circle cx="281.60" cy="244.15" r="2.6" fill="#306bc8" fill-opacity="0.9"/>
<circle cx="281.45" cy="244.90" r="2.6" fill="#e5bd26" fill-opacity="0.9"/>
<circle cx="284.62" cy="244.81" r="2.6" fill="#e5bd26" fill-opacity="0.9"/>
<circle cx="284.77" cy="243.18" r="2.6" fill="#306bc8" fill-opacity="0.9"/>
<circle cx="287.95" cy="242.41" r="2.6" fill="#306bc8" fill-opacity="0.9"/>
<circle cx="287.80" cy="244.55" r="2.6" fill="#e5bd26" fill-opacity="0.9"/>
<circle cx="290.98" cy="243.90" r="2.6" fill="#e5bd26" fill-opacity="0.9"/>
<circle cx="291.12" cy="241.24" r="2.6" fill="#306bc8" fill-opacity="0.9"/>
<circle cx="294.30" cy="240.36" r="2.6" fill="#306bc8" fill-opacity="0.9"/>
<circle cx="294.15" cy="243.85" r="2.6" fill="#e5bd26" fill-opacity="0.9"/>
<circle cx="297.48" cy="239.25" r="2.6" fill="#306bc8" fill-opacity="0.9"/>
<circle cx="297.33" cy="243.29" r="2.6" fill="#e5bd26" fill-opacity="0.9"/>
<circle cx="300.65" cy="238.45" r="2.6" fill="#306bc8" fill-opacity="0.9"/>
<circle cx="300.50" cy="242.51" r="2.6" fill="#e5bd26" fill-opacity="0.9"/>
<circle cx="303.82" cy="237.88" r="2.6" fill="#306bc8" fill-opacity="0.9"/>
<circle cx="303.68" cy="241.52" r="2.6" fill="#e5bd26" fill-opacity="0.9"/>
<circle cx="306.85" cy="240.92" r="2.6" fill="#e5bd26" fill-opacity="0.9"/>
<circle cx="307.00" cy="237.23" r="2.6" fill="#306bc8" fill-opacity="0.9"/>
<circle cx="310.17" cy="236.11" r="2.6" fill="#306bc8" fill-opacity="0.9"/>
<circle cx="310.02" cy="239.34" r="2.6" fill="#e5bd26" fill-opacity="0.9"/>
<circle cx="313.20" cy="238.42" r="2.6" fill="#e5bd26" fill-opacity="0.9"/>
<circle cx="313.35" cy="234.77" r="2.6" fill="#306bc8" fill-opacity="0.9"/>
<circle cx="316.38" cy="237.18" r="2.6" fill="#e5bd26" fill-opacity="0.9"/>
<circle cx="316.52" cy="232.54" r="2.6" fill="#306bc8" fill-opacity="0.9"/>
<circle cx="319.70" cy="231.24" r="2.6" fill="#306bc8" fill-opacity="0.9"/>
<circle cx="319.55" cy="235.72" r="2.6" fill="#e5bd26" fill-opacity="0.9"/>
<circle cx="322.88" cy="229.86" r="2.6" fill="#306bc8" fill-opacity="0.9"/>
<circle cx="322.73" cy="234.09" r="2.6" fill="#e5bd26" fill-opacity="0.9"/>
<circle cx="326.05" cy="228.60" r="2.6" fill="#306bc8" fill-opacity="0.9"/>
<circle cx="325.90" cy="232.21" r="2.6" fill="#e5bd26" fill-opacity="0.9"/>
<circle cx="329.23" cy="220.05" r="2.6" fill="#306bc8" fill-opacity="0.9"/>
<circle cx="329.08" cy="230.47" r="2.6" fill="#e5bd26" fill-opacity="0.9"/>
<circle cx="332.25" cy="216.06" r="2.6" fill="#e5bd26" fill-opacity="0.9"/>
<circle cx="332.40" cy="212.09" r="2.6" fill="#306bc8" fill-opacity="0.9"/>
</g>
<text x="7.6" y="364.2" textLength="9.9" lengthAdjust="spacingAndGlyphs" style="font-family:'Liberation Sans',sans-serif;font-size:14px;font-weight:700" fill="#000">C</text>
<text transform="translate(27.6,418.10) rotate(-89.9)" text-anchor="middle" textLength="51.6" lengthAdjust="spacingAndGlyphs" style="font-family:'Liberation Sans',sans-serif;font-size:10.0px" fill="#231f20" stroke="#231f20" stroke-width="0.3">Urinary PGIM</text>
<text transform="translate(40.7,418.35) rotate(-89.9)" text-anchor="middle" textLength="66.3" lengthAdjust="spacingAndGlyphs" style="font-family:'Liberation Sans',sans-serif;font-size:10.0px" fill="#231f20" stroke="#231f20" stroke-width="0.3">pg/mg creatinine</text>
<line x1="74.5" y1="367.90" x2="74.5" y2="468.55" stroke="#000" stroke-width="1.1"/>
<line x1="71.20" y1="372.50" x2="74.5" y2="372.50" stroke="#000" stroke-width="1"/>
<text transform="translate(67.90,375.30) rotate(0.1)" text-anchor="end" textLength="20.80" lengthAdjust="spacingAndGlyphs" style="font-family:'Liberation Sans',sans-serif;font-size:9.4px" fill="#231f20" stroke="#231f20" stroke-width="0.2">2500</text>
<line x1="71.20" y1="385.95" x2="74.5" y2="385.95" stroke="#000" stroke-width="1"/>
<text transform="translate(67.90,388.75) rotate(0.1)" text-anchor="end" textLength="20.80" lengthAdjust="spacingAndGlyphs" style="font-family:'Liberation Sans',sans-serif;font-size:9.4px" fill="#231f20" stroke="#231f20" stroke-width="0.2">1000</text>
<line x1="71.20" y1="396.12" x2="74.5" y2="396.12" stroke="#000" stroke-width="1"/>
<text transform="translate(67.90,398.92) rotate(0.1)" text-anchor="end" textLength="15.60" lengthAdjust="spacingAndGlyphs" style="font-family:'Liberation Sans',sans-serif;font-size:9.4px" fill="#231f20" stroke="#231f20" stroke-width="0.2">500</text>
<line x1="71.20" y1="406.30" x2="74.5" y2="406.30" stroke="#000" stroke-width="1"/>
<text transform="translate(67.90,409.10) rotate(0.1)" text-anchor="end" textLength="15.60" lengthAdjust="spacingAndGlyphs" style="font-family:'Liberation Sans',sans-serif;font-size:9.4px" fill="#231f20" stroke="#231f20" stroke-width="0.2">250</text>
<line x1="71.20" y1="419.75" x2="74.5" y2="419.75" stroke="#000" stroke-width="1"/>
<text transform="translate(67.90,422.55) rotate(0.1)" text-anchor="end" textLength="15.60" lengthAdjust="spacingAndGlyphs" style="font-family:'Liberation Sans',sans-serif;font-size:9.4px" fill="#231f20" stroke="#231f20" stroke-width="0.2">100</text>
<line x1="71.20" y1="429.92" x2="74.5" y2="429.92" stroke="#000" stroke-width="1"/>
<text transform="translate(67.90,432.72) rotate(0.1)" text-anchor="end" textLength="10.40" lengthAdjust="spacingAndGlyphs" style="font-family:'Liberation Sans',sans-serif;font-size:9.4px" fill="#231f20" stroke="#231f20" stroke-width="0.2">50</text>
<line x1="71.20" y1="440.10" x2="74.5" y2="440.10" stroke="#000" stroke-width="1"/>
<text transform="translate(67.90,442.90) rotate(0.1)" text-anchor="end" textLength="10.40" lengthAdjust="spacingAndGlyphs" style="font-family:'Liberation Sans',sans-serif;font-size:9.4px" fill="#231f20" stroke="#231f20" stroke-width="0.2">25</text>
<line x1="71.20" y1="453.55" x2="74.5" y2="453.55" stroke="#000" stroke-width="1"/>
<text transform="translate(67.90,456.35) rotate(0.1)" text-anchor="end" textLength="10.40" lengthAdjust="spacingAndGlyphs" style="font-family:'Liberation Sans',sans-serif;font-size:9.4px" fill="#231f20" stroke="#231f20" stroke-width="0.2">10</text>
<line x1="71.20" y1="463.72" x2="74.5" y2="463.72" stroke="#000" stroke-width="1"/>
<text transform="translate(67.90,466.52) rotate(0.1)" text-anchor="end" textLength="5.20" lengthAdjust="spacingAndGlyphs" style="font-family:'Liberation Sans',sans-serif;font-size:9.4px" fill="#231f20" stroke="#231f20" stroke-width="0.2">5</text>
<line x1="413.5" y1="367.90" x2="413.5" y2="468.55" stroke="#000" stroke-width="1.1"/>
<line x1="410.20" y1="372.50" x2="413.5" y2="372.50" stroke="#000" stroke-width="1"/>
<text transform="translate(406.10,375.30) rotate(0.1)" text-anchor="end" textLength="20.80" lengthAdjust="spacingAndGlyphs" style="font-family:'Liberation Sans',sans-serif;font-size:9.4px" fill="#231f20" stroke="#231f20" stroke-width="0.2">2500</text>
<line x1="410.20" y1="385.95" x2="413.5" y2="385.95" stroke="#000" stroke-width="1"/>
<text transform="translate(406.10,388.75) rotate(0.1)" text-anchor="end" textLength="20.80" lengthAdjust="spacingAndGlyphs" style="font-family:'Liberation Sans',sans-serif;font-size:9.4px" fill="#231f20" stroke="#231f20" stroke-width="0.2">1000</text>
<line x1="410.20" y1="396.12" x2="413.5" y2="396.12" stroke="#000" stroke-width="1"/>
<text transform="translate(406.10,398.92) rotate(0.1)" text-anchor="end" textLength="15.60" lengthAdjust="spacingAndGlyphs" style="font-family:'Liberation Sans',sans-serif;font-size:9.4px" fill="#231f20" stroke="#231f20" stroke-width="0.2">500</text>
<line x1="410.20" y1="406.30" x2="413.5" y2="406.30" stroke="#000" stroke-width="1"/>
<text transform="translate(406.10,409.10) rotate(0.1)" text-anchor="end" textLength="15.60" lengthAdjust="spacingAndGlyphs" style="font-family:'Liberation Sans',sans-serif;font-size:9.4px" fill="#231f20" stroke="#231f20" stroke-width="0.2">250</text>
<line x1="410.20" y1="419.75" x2="413.5" y2="419.75" stroke="#000" stroke-width="1"/>
<text transform="translate(406.10,422.55) rotate(0.1)" text-anchor="end" textLength="15.60" lengthAdjust="spacingAndGlyphs" style="font-family:'Liberation Sans',sans-serif;font-size:9.4px" fill="#231f20" stroke="#231f20" stroke-width="0.2">100</text>
<line x1="410.20" y1="429.92" x2="413.5" y2="429.92" stroke="#000" stroke-width="1"/>
<text transform="translate(406.10,432.72) rotate(0.1)" text-anchor="end" textLength="10.40" lengthAdjust="spacingAndGlyphs" style="font-family:'Liberation Sans',sans-serif;font-size:9.4px" fill="#231f20" stroke="#231f20" stroke-width="0.2">50</text>
<line x1="410.20" y1="440.10" x2="413.5" y2="440.10" stroke="#000" stroke-width="1"/>
<text transform="translate(406.10,442.90) rotate(0.1)" text-anchor="end" textLength="10.40" lengthAdjust="spacingAndGlyphs" style="font-family:'Liberation Sans',sans-serif;font-size:9.4px" fill="#231f20" stroke="#231f20" stroke-width="0.2">25</text>
<line x1="410.20" y1="453.55" x2="413.5" y2="453.55" stroke="#000" stroke-width="1"/>
<text transform="translate(406.10,456.35) rotate(0.1)" text-anchor="end" textLength="10.40" lengthAdjust="spacingAndGlyphs" style="font-family:'Liberation Sans',sans-serif;font-size:9.4px" fill="#231f20" stroke="#231f20" stroke-width="0.2">10</text>
<line x1="410.20" y1="463.72" x2="413.5" y2="463.72" stroke="#000" stroke-width="1"/>
<text transform="translate(406.10,466.52) rotate(0.1)" text-anchor="end" textLength="5.20" lengthAdjust="spacingAndGlyphs" style="font-family:'Liberation Sans',sans-serif;font-size:9.4px" fill="#231f20" stroke="#231f20" stroke-width="0.2">5</text>
<line x1="74" y1="468.00" x2="367" y2="468.00" stroke="#000" stroke-width="1.1"/>
<line x1="84.50" y1="468.00" x2="84.50" y2="471.50" stroke="#000" stroke-width="1"/>
<text transform="translate(84.50,482.80) rotate(0.1)" text-anchor="middle" textLength="5.20" lengthAdjust="spacingAndGlyphs" style="font-family:'Liberation Sans',sans-serif;font-size:9.4px" fill="#231f20" stroke="#231f20" stroke-width="0.2">0</text>
<line x1="100.38" y1="468.00" x2="100.38" y2="471.50" stroke="#000" stroke-width="1"/>
<text transform="translate(100.38,482.80) rotate(0.1)" text-anchor="middle" textLength="5.20" lengthAdjust="spacingAndGlyphs" style="font-family:'Liberation Sans',sans-serif;font-size:9.4px" fill="#231f20" stroke="#231f20" stroke-width="0.2">5</text>
<line x1="116.25" y1="468.00" x2="116.25" y2="471.50" stroke="#000" stroke-width="1"/>
<text transform="translate(116.25,482.80) rotate(0.1)" text-anchor="middle" textLength="10.40" lengthAdjust="spacingAndGlyphs" style="font-family:'Liberation Sans',sans-serif;font-size:9.4px" fill="#231f20" stroke="#231f20" stroke-width="0.2">10</text>
<line x1="132.12" y1="468.00" x2="132.12" y2="471.50" stroke="#000" stroke-width="1"/>
<text transform="translate(132.12,482.80) rotate(0.1)" text-anchor="middle" textLength="10.40" lengthAdjust="spacingAndGlyphs" style="font-family:'Liberation Sans',sans-serif;font-size:9.4px" fill="#231f20" stroke="#231f20" stroke-width="0.2">15</text>
<line x1="148.00" y1="468.00" x2="148.00" y2="471.50" stroke="#000" stroke-width="1"/>
<text transform="translate(148.00,482.80) rotate(0.1)" text-anchor="middle" textLength="10.40" lengthAdjust="spacingAndGlyphs" style="font-family:'Liberation Sans',sans-serif;font-size:9.4px" fill="#231f20" stroke="#231f20" stroke-width="0.2">20</text>
<line x1="163.88" y1="468.00" x2="163.88" y2="471.50" stroke="#000" stroke-width="1"/>
<text transform="translate(163.88,482.80) rotate(0.1)" text-anchor="middle" textLength="10.40" lengthAdjust="spacingAndGlyphs" style="font-family:'Liberation Sans',sans-serif;font-size:9.4px" fill="#231f20" stroke="#231f20" stroke-width="0.2">25</text>
<line x1="179.75" y1="468.00" x2="179.75" y2="471.50" stroke="#000" stroke-width="1"/>
<text transform="translate(179.75,482.80) rotate(0.1)" text-anchor="middle" textLength="10.40" lengthAdjust="spacingAndGlyphs" style="font-family:'Liberation Sans',sans-serif;font-size:9.4px" fill="#231f20" stroke="#231f20" stroke-width="0.2">30</text>
<line x1="195.62" y1="468.00" x2="195.62" y2="471.50" stroke="#000" stroke-width="1"/>
<text transform="translate(195.62,482.80) rotate(0.1)" text-anchor="middle" textLength="10.40" lengthAdjust="spacingAndGlyphs" style="font-family:'Liberation Sans',sans-serif;font-size:9.4px" fill="#231f20" stroke="#231f20" stroke-width="0.2">35</text>
<line x1="211.50" y1="468.00" x2="211.50" y2="471.50" stroke="#000" stroke-width="1"/>
<text transform="translate(211.50,482.80) rotate(0.1)" text-anchor="middle" textLength="10.40" lengthAdjust="spacingAndGlyphs" style="font-family:'Liberation Sans',sans-serif;font-size:9.4px" fill="#231f20" stroke="#231f20" stroke-width="0.2">40</text>
<line x1="227.38" y1="468.00" x2="227.38" y2="471.50" stroke="#000" stroke-width="1"/>
<text transform="translate(227.38,482.80) rotate(0.1)" text-anchor="middle" textLength="10.40" lengthAdjust="spacingAndGlyphs" style="font-family:'Liberation Sans',sans-serif;font-size:9.4px" fill="#231f20" stroke="#231f20" stroke-width="0.2">45</text>
<line x1="243.25" y1="468.00" x2="243.25" y2="471.50" stroke="#000" stroke-width="1"/>
<text transform="translate(243.25,482.80) rotate(0.1)" text-anchor="middle" textLength="10.40" lengthAdjust="spacingAndGlyphs" style="font-family:'Liberation Sans',sans-serif;font-size:9.4px" fill="#231f20" stroke="#231f20" stroke-width="0.2">50</text>
<line x1="259.12" y1="468.00" x2="259.12" y2="471.50" stroke="#000" stroke-width="1"/>
<text transform="translate(259.12,482.80) rotate(0.1)" text-anchor="middle" textLength="10.40" lengthAdjust="spacingAndGlyphs" style="font-family:'Liberation Sans',sans-serif;font-size:9.4px" fill="#231f20" stroke="#231f20" stroke-width="0.2">55</text>
<line x1="275.00" y1="468.00" x2="275.00" y2="471.50" stroke="#000" stroke-width="1"/>
<text transform="translate(275.00,482.80) rotate(0.1)" text-anchor="middle" textLength="10.40" lengthAdjust="spacingAndGlyphs" style="font-family:'Liberation Sans',sans-serif;font-size:9.4px" fill="#231f20" stroke="#231f20" stroke-width="0.2">60</text>
<line x1="290.88" y1="468.00" x2="290.88" y2="471.50" stroke="#000" stroke-width="1"/>
<text transform="translate(290.88,482.80) rotate(0.1)" text-anchor="middle" textLength="10.40" lengthAdjust="spacingAndGlyphs" style="font-family:'Liberation Sans',sans-serif;font-size:9.4px" fill="#231f20" stroke="#231f20" stroke-width="0.2">65</text>
<line x1="306.75" y1="468.00" x2="306.75" y2="471.50" stroke="#000" stroke-width="1"/>
<text transform="translate(306.75,482.80) rotate(0.1)" text-anchor="middle" textLength="10.40" lengthAdjust="spacingAndGlyphs" style="font-family:'Liberation Sans',sans-serif;font-size:9.4px" fill="#231f20" stroke="#231f20" stroke-width="0.2">70</text>
<line x1="322.62" y1="468.00" x2="322.62" y2="471.50" stroke="#000" stroke-width="1"/>
<text transform="translate(322.62,482.80) rotate(0.1)" text-anchor="middle" textLength="10.40" lengthAdjust="spacingAndGlyphs" style="font-family:'Liberation Sans',sans-serif;font-size:9.4px" fill="#231f20" stroke="#231f20" stroke-width="0.2">75</text>
<text x="221" y="498.30" text-anchor="middle" textLength="27" lengthAdjust="spacingAndGlyphs" style="font-family:'Liberation Sans',sans-serif;font-size:11px" fill="#231f20" stroke="#231f20" stroke-width="0.3">Patient</text>
<line x1="413" y1="468.00" x2="512" y2="468.00" stroke="#000" stroke-width="1.1"/>
<line x1="417.90" y1="468.00" x2="417.90" y2="471.50" stroke="#000" stroke-width="1"/>
<text transform="translate(417.90,482.80) rotate(0.1)" text-anchor="middle" textLength="13.00" lengthAdjust="spacingAndGlyphs" style="font-family:'Liberation Sans',sans-serif;font-size:9.4px" fill="#231f20" stroke="#231f20" stroke-width="0.2">0.0</text>
<line x1="439.25" y1="468.00" x2="439.25" y2="471.50" stroke="#000" stroke-width="1"/>
<text transform="translate(439.25,482.80) rotate(0.1)" text-anchor="middle" textLength="13.00" lengthAdjust="spacingAndGlyphs" style="font-family:'Liberation Sans',sans-serif;font-size:9.4px" fill="#231f20" stroke="#231f20" stroke-width="0.2">0.1</text>
<line x1="460.60" y1="468.00" x2="460.60" y2="471.50" stroke="#000" stroke-width="1"/>
<text transform="translate(460.60,482.80) rotate(0.1)" text-anchor="middle" textLength="13.00" lengthAdjust="spacingAndGlyphs" style="font-family:'Liberation Sans',sans-serif;font-size:9.4px" fill="#231f20" stroke="#231f20" stroke-width="0.2">0.2</text>
<line x1="481.95" y1="468.00" x2="481.95" y2="471.50" stroke="#000" stroke-width="1"/>
<text transform="translate(481.95,482.80) rotate(0.1)" text-anchor="middle" textLength="13.00" lengthAdjust="spacingAndGlyphs" style="font-family:'Liberation Sans',sans-serif;font-size:9.4px" fill="#231f20" stroke="#231f20" stroke-width="0.2">0.3</text>
<line x1="503.30" y1="468.00" x2="503.30" y2="471.50" stroke="#000" stroke-width="1"/>
<text transform="translate(503.30,482.80) rotate(0.1)" text-anchor="middle" textLength="13.00" lengthAdjust="spacingAndGlyphs" style="font-family:'Liberation Sans',sans-serif;font-size:9.4px" fill="#231f20" stroke="#231f20" stroke-width="0.2">0.4</text>
<text x="462.6" y="498.30" text-anchor="middle" textLength="29" lengthAdjust="spacingAndGlyphs" style="font-family:'Liberation Sans',sans-serif;font-size:11px" fill="#231f20" stroke="#231f20" stroke-width="0.3">Density</text>
<clipPath id="c2_2"><path d="M417.90,372.10 L417.90,372.10 C417.93,373.50 417.92,378.90 418.10,380.50 C418.28,382.10 418.60,380.95 419.00,381.70 C419.40,382.45 420.18,383.87 420.50,385.00 C420.82,386.13 420.87,387.50 420.90,388.50 C420.93,389.50 420.70,390.22 420.70,391.00 C420.70,391.78 420.77,392.57 420.90,393.20 C421.03,393.83 421.02,394.30 421.50,394.80 C421.98,395.30 422.47,395.62 423.80,396.20 C425.13,396.78 427.58,397.62 429.50,398.30 C431.42,398.98 433.37,399.63 435.30,400.30 C437.23,400.97 439.17,401.60 441.10,402.30 C443.03,403.00 445.20,403.83 446.90,404.50 C448.60,405.17 448.78,405.57 451.30,406.30 C453.82,407.03 459.47,408.32 462.00,408.90 C464.53,409.48 463.82,409.23 466.50,409.80 C469.18,410.37 474.92,411.50 478.10,412.30 C481.28,413.10 482.72,413.87 485.60,414.60 C488.48,415.33 492.42,416.12 495.40,416.70 C498.38,417.28 501.48,417.58 503.50,418.10 C505.52,418.62 507.88,419.07 507.50,419.80 C507.12,420.53 504.18,421.63 501.20,422.50 C498.22,423.37 493.45,424.10 489.60,425.00 C485.75,425.90 481.95,427.07 478.10,427.90 C474.25,428.73 469.18,429.57 466.50,430.00 C463.82,430.43 464.53,429.88 462.00,430.50 C459.47,431.12 454.72,432.58 451.30,433.70 C447.88,434.82 444.78,436.05 441.50,437.20 C438.22,438.35 434.88,439.45 431.60,440.60 C428.32,441.75 423.92,443.20 421.80,444.10 C419.68,445.00 419.52,445.43 418.90,446.00 C418.28,446.57 418.27,444.63 418.10,447.50 C417.93,450.37 417.93,460.58 417.90,463.20 L417.90,463.20 Z"/></clipPath>
<path d="M417.90,372.10 L417.90,372.10 C417.93,373.50 417.92,378.90 418.10,380.50 C418.28,382.10 418.60,380.95 419.00,381.70 C419.40,382.45 420.18,383.87 420.50,385.00 C420.82,386.13 420.87,387.50 420.90,388.50 C420.93,389.50 420.70,390.22 420.70,391.00 C420.70,391.78 420.77,392.57 420.90,393.20 C421.03,393.83 421.02,394.30 421.50,394.80 C421.98,395.30 422.47,395.62 423.80,396.20 C425.13,396.78 427.58,397.62 429.50,398.30 C431.42,398.98 433.37,399.63 435.30,400.30 C437.23,400.97 439.17,401.60 441.10,402.30 C443.03,403.00 445.20,403.83 446.90,404.50 C448.60,405.17 448.78,405.57 451.30,406.30 C453.82,407.03 459.47,408.32 462.00,408.90 C464.53,409.48 463.82,409.23 466.50,409.80 C469.18,410.37 474.92,411.50 478.10,412.30 C481.28,413.10 482.72,413.87 485.60,414.60 C488.48,415.33 492.42,416.12 495.40,416.70 C498.38,417.28 501.48,417.58 503.50,418.10 C505.52,418.62 507.88,419.07 507.50,419.80 C507.12,420.53 504.18,421.63 501.20,422.50 C498.22,423.37 493.45,424.10 489.60,425.00 C485.75,425.90 481.95,427.07 478.10,427.90 C474.25,428.73 469.18,429.57 466.50,430.00 C463.82,430.43 464.53,429.88 462.00,430.50 C459.47,431.12 454.72,432.58 451.30,433.70 C447.88,434.82 444.78,436.05 441.50,437.20 C438.22,438.35 434.88,439.45 431.60,440.60 C428.32,441.75 423.92,443.20 421.80,444.10 C419.68,445.00 419.52,445.43 418.90,446.00 C418.28,446.57 418.27,444.63 418.10,447.50 C417.93,450.37 417.93,460.58 417.90,463.20 L417.90,463.20 Z" fill="#82b6de"/>
<path d="M417.90,372.10 L417.90,372.10 C417.92,374.68 417.60,384.58 418.00,387.60 C418.40,390.62 419.72,389.52 420.30,390.20 C420.88,390.88 420.92,391.18 421.50,391.70 C422.08,392.22 422.47,392.57 423.80,393.30 C425.13,394.03 427.58,395.20 429.50,396.10 C431.42,397.00 433.37,397.88 435.30,398.70 C437.23,399.52 439.17,400.23 441.10,401.00 C443.03,401.77 445.20,402.62 446.90,403.30 C448.60,403.98 448.78,404.32 451.30,405.10 C453.82,405.88 459.47,407.28 462.00,408.00 C464.53,408.72 463.82,408.68 466.50,409.40 C469.18,410.12 474.92,411.43 478.10,412.30 C481.28,413.17 484.25,413.93 485.60,414.60 C486.95,415.27 486.30,415.62 486.20,416.30 C486.10,416.98 485.78,417.83 485.00,418.70 C484.22,419.57 483.62,420.35 481.50,421.50 C479.38,422.65 475.18,424.15 472.30,425.60 C469.42,427.05 465.92,429.23 464.20,430.20 C462.48,431.17 464.15,430.47 462.00,431.40 C459.85,432.33 454.72,434.43 451.30,435.80 C447.88,437.17 444.78,438.22 441.50,439.60 C438.22,440.98 434.38,442.87 431.60,444.10 C428.82,445.33 426.43,446.10 424.80,447.00 C423.17,447.90 422.47,448.43 421.80,449.50 C421.13,450.57 421.12,451.93 420.80,453.40 C420.48,454.87 420.35,456.67 419.90,458.30 C419.45,459.93 418.40,462.38 418.10,463.20 L417.90,463.20 Z" fill="#f6dc7a"/>
<path d="M417.90,372.10 L417.90,372.10 C417.92,374.68 417.60,384.58 418.00,387.60 C418.40,390.62 419.72,389.52 420.30,390.20 C420.88,390.88 420.92,391.18 421.50,391.70 C422.08,392.22 422.47,392.57 423.80,393.30 C425.13,394.03 427.58,395.20 429.50,396.10 C431.42,397.00 433.37,397.88 435.30,398.70 C437.23,399.52 439.17,400.23 441.10,401.00 C443.03,401.77 445.20,402.62 446.90,403.30 C448.60,403.98 448.78,404.32 451.30,405.10 C453.82,405.88 459.47,407.28 462.00,408.00 C464.53,408.72 463.82,408.68 466.50,409.40 C469.18,410.12 474.92,411.43 478.10,412.30 C481.28,413.17 484.25,413.93 485.60,414.60 C486.95,415.27 486.30,415.62 486.20,416.30 C486.10,416.98 485.78,417.83 485.00,418.70 C484.22,419.57 483.62,420.35 481.50,421.50 C479.38,422.65 475.18,424.15 472.30,425.60 C469.42,427.05 465.92,429.23 464.20,430.20 C462.48,431.17 464.15,430.47 462.00,431.40 C459.85,432.33 454.72,434.43 451.30,435.80 C447.88,437.17 444.78,438.22 441.50,439.60 C438.22,440.98 434.38,442.87 431.60,444.10 C428.82,445.33 426.43,446.10 424.80,447.00 C423.17,447.90 422.47,448.43 421.80,449.50 C421.13,450.57 421.12,451.93 420.80,453.40 C420.48,454.87 420.35,456.67 419.90,458.30 C419.45,459.93 418.40,462.38 418.10,463.20 L417.90,463.20 Z" fill="#7ca372" clip-path="url(#c2_2)"/>
<line x1="418.0" y1="372.10" x2="418.0" y2="463.20" stroke="#333" stroke-width="1.4"/>
<path d="M418.10,380.50 C418.25,380.70 418.60,380.95 419.00,381.70 C419.40,382.45 420.18,383.87 420.50,385.00 C420.82,386.13 420.87,387.50 420.90,388.50 C420.93,389.50 420.70,390.22 420.70,391.00 C420.70,391.78 420.77,392.57 420.90,393.20 C421.03,393.83 421.02,394.30 421.50,394.80 C421.98,395.30 422.47,395.62 423.80,396.20 C425.13,396.78 427.58,397.62 429.50,398.30 C431.42,398.98 433.37,399.63 435.30,400.30 C437.23,400.97 439.17,401.60 441.10,402.30 C443.03,403.00 445.20,403.83 446.90,404.50 C448.60,405.17 448.78,405.57 451.30,406.30 C453.82,407.03 459.47,408.32 462.00,408.90 C464.53,409.48 463.82,409.23 466.50,409.80 C469.18,410.37 474.92,411.50 478.10,412.30 C481.28,413.10 482.72,413.87 485.60,414.60 C488.48,415.33 492.42,416.12 495.40,416.70 C498.38,417.28 501.48,417.58 503.50,418.10 C505.52,418.62 507.88,419.07 507.50,419.80 C507.12,420.53 504.18,421.63 501.20,422.50 C498.22,423.37 493.45,424.10 489.60,425.00 C485.75,425.90 481.95,427.07 478.10,427.90 C474.25,428.73 469.18,429.57 466.50,430.00 C463.82,430.43 464.53,429.88 462.00,430.50 C459.47,431.12 454.72,432.58 451.30,433.70 C447.88,434.82 444.78,436.05 441.50,437.20 C438.22,438.35 434.88,439.45 431.60,440.60 C428.32,441.75 423.92,443.20 421.80,444.10 C419.68,445.00 419.52,445.43 418.90,446.00 C418.28,446.57 418.23,447.25 418.10,447.50" fill="none" stroke="#000" stroke-width="1.1" stroke-linejoin="round"/>
<path d="M418.00,387.60 C418.38,388.03 419.72,389.52 420.30,390.20 C420.88,390.88 420.92,391.18 421.50,391.70 C422.08,392.22 422.47,392.57 423.80,393.30 C425.13,394.03 427.58,395.20 429.50,396.10 C431.42,397.00 433.37,397.88 435.30,398.70 C437.23,399.52 439.17,400.23 441.10,401.00 C443.03,401.77 445.20,402.62 446.90,403.30 C448.60,403.98 448.78,404.32 451.30,405.10 C453.82,405.88 459.47,407.28 462.00,408.00 C464.53,408.72 463.82,408.68 466.50,409.40 C469.18,410.12 474.92,411.43 478.10,412.30 C481.28,413.17 484.25,413.93 485.60,414.60 C486.95,415.27 486.30,415.62 486.20,416.30 C486.10,416.98 485.78,417.83 485.00,418.70 C484.22,419.57 483.62,420.35 481.50,421.50 C479.38,422.65 475.18,424.15 472.30,425.60 C469.42,427.05 465.92,429.23 464.20,430.20 C462.48,431.17 464.15,430.47 462.00,431.40 C459.85,432.33 454.72,434.43 451.30,435.80 C447.88,437.17 444.78,438.22 441.50,439.60 C438.22,440.98 434.38,442.87 431.60,444.10 C428.82,445.33 426.43,446.10 424.80,447.00 C423.17,447.90 422.47,448.43 421.80,449.50 C421.13,450.57 421.12,451.93 420.80,453.40 C420.48,454.87 420.35,456.67 419.90,458.30 C419.45,459.93 418.40,462.38 418.10,463.20" fill="none" stroke="#000" stroke-width="1.1" stroke-linejoin="round"/>
<g filter="url(#soft)">
<circle cx="87.77" cy="456.50" r="2.6" fill="#e5bd26" fill-opacity="0.9"/>
<circle cx="87.92" cy="440.00" r="2.6" fill="#306bc8" fill-opacity="0.9"/>
<circle cx="90.95" cy="445.40" r="2.6" fill="#e5bd26" fill-opacity="0.9"/>
<circle cx="91.10" cy="439.38" r="2.6" fill="#306bc8" fill-opacity="0.9"/>
<circle cx="94.12" cy="443.77" r="2.6" fill="#e5bd26" fill-opacity="0.9"/>
<circle cx="94.28" cy="438.26" r="2.6" fill="#306bc8" fill-opacity="0.9"/>
<circle cx="97.45" cy="438.35" r="2.6" fill="#306bc8" fill-opacity="0.9"/>
<circle cx="97.30" cy="443.20" r="2.6" fill="#e5bd26" fill-opacity="0.9"/>
<circle cx="100.47" cy="442.22" r="2.6" fill="#e5bd26" fill-opacity="0.9"/>
<circle cx="100.62" cy="437.08" r="2.6" fill="#306bc8" fill-opacity="0.9"/>
<circle cx="103.80" cy="435.61" r="2.6" fill="#306bc8" fill-opacity="0.9"/>
<circle cx="103.65" cy="441.39" r="2.6" fill="#e5bd26" fill-opacity="0.9"/>
<circle cx="106.97" cy="434.98" r="2.6" fill="#306bc8" fill-opacity="0.9"/>
<circle cx="106.82" cy="440.48" r="2.6" fill="#e5bd26" fill-opacity="0.9"/>
<circle cx="110.15" cy="433.71" r="2.6" fill="#306bc8" fill-opacity="0.9"/>
<circle cx="110.00" cy="439.02" r="2.6" fill="#e5bd26" fill-opacity="0.9"/>
<circle cx="113.33" cy="432.25" r="2.6" fill="#306bc8" fill-opacity="0.9"/>
<circle cx="113.17" cy="438.92" r="2.6" fill="#e5bd26" fill-opacity="0.9"/>
<circle cx="116.35" cy="437.59" r="2.6" fill="#e5bd26" fill-opacity="0.9"/>
<circle cx="116.50" cy="431.69" r="2.6" fill="#306bc8" fill-opacity="0.9"/>
<circle cx="119.52" cy="437.02" r="2.6" fill="#e5bd26" fill-opacity="0.9"/>
<circle cx="119.67" cy="430.95" r="2.6" fill="#306bc8" fill-opacity="0.9"/>
<circle cx="122.70" cy="435.80" r="2.6" fill="#e5bd26" fill-opacity="0.9"/>
<circle cx="122.85" cy="429.95" r="2.6" fill="#306bc8" fill-opacity="0.9"/>
<circle cx="126.03" cy="428.88" r="2.6" fill="#306bc8" fill-opacity="0.9"/>
<circle cx="125.88" cy="434.50" r="2.6" fill="#e5bd26" fill-opacity="0.9"/>
<circle cx="129.05" cy="434.07" r="2.6" fill="#e5bd26" fill-opacity="0.9"/>
<circle cx="129.20" cy="428.81" r="2.6" fill="#306bc8" fill-opacity="0.9"/>
<circle cx="132.38" cy="427.93" r="2.6" fill="#306bc8" fill-opacity="0.9"/>
<circle cx="132.22" cy="433.22" r="2.6" fill="#e5bd26" fill-opacity="0.9"/>
<circle cx="135.55" cy="427.31" r="2.6" fill="#306bc8" fill-opacity="0.9"/>
<circle cx="135.40" cy="432.07" r="2.6" fill="#e5bd26" fill-opacity="0.9"/>
<circle cx="138.57" cy="430.59" r="2.6" fill="#e5bd26" fill-opacity="0.9"/>
<circle cx="138.72" cy="427.00" r="2.6" fill="#306bc8" fill-opacity="0.9"/>
<circle cx="141.75" cy="429.87" r="2.6" fill="#e5bd26" fill-opacity="0.9"/>
<circle cx="141.90" cy="426.60" r="2.6" fill="#306bc8" fill-opacity="0.9"/>
<circle cx="145.07" cy="426.76" r="2.6" fill="#306bc8" fill-opacity="0.9"/>
<circle cx="144.92" cy="429.13" r="2.6" fill="#e5bd26" fill-opacity="0.9"/>
<circle cx="148.25" cy="425.74" r="2.6" fill="#306bc8" fill-opacity="0.9"/>
<circle cx="148.10" cy="429.03" r="2.6" fill="#e5bd26" fill-opacity="0.9"/>
<circle cx="151.28" cy="428.70" r="2.6" fill="#e5bd26" fill-opacity="0.9"/>
<circle cx="151.43" cy="424.73" r="2.6" fill="#306bc8" fill-opacity="0.9"/>
<circle cx="154.60" cy="424.83" r="2.6" fill="#306bc8" fill-opacity="0.9"/>
<circle cx="154.45" cy="428.08" r="2.6" fill="#e5bd26" fill-opacity="0.9"/>
<circle cx="157.77" cy="423.87" r="2.6" fill="#306bc8" fill-opacity="0.9"/>
<circle cx="157.62" cy="427.82" r="2.6" fill="#e5bd26" fill-opacity="0.9"/>
<circle cx="160.80" cy="426.92" r="2.6" fill="#e5bd26" fill-opacity="0.9"/>
<circle cx="160.95" cy="423.70" r="2.6" fill="#306bc8" fill-opacity="0.9"/>
<circle cx="164.12" cy="423.18" r="2.6" fill="#306bc8" fill-opacity="0.9"/>
<circle cx="163.97" cy="427.16" r="2.6" fill="#e5bd26" fill-opacity="0.9"/>
<circle cx="167.15" cy="426.33" r="2.6" fill="#e5bd26" fill-opacity="0.9"/>
<circle cx="167.30" cy="422.92" r="2.6" fill="#306bc8" fill-opacity="0.9"/>
<circle cx="170.47" cy="422.67" r="2.6" fill="#306bc8" fill-opacity="0.9"/>
<circle cx="170.32" cy="426.41" r="2.6" fill="#e5bd26" fill-opacity="0.9"/>
<circle cx="173.50" cy="425.36" r="2.6" fill="#e5bd26" fill-opacity="0.9"/>
<circle cx="173.65" cy="422.71" r="2.6" fill="#306bc8" fill-opacity="0.9"/>
<circle cx="176.82" cy="422.19" r="2.6" fill="#306bc8" fill-opacity="0.9"/>
<circle cx="176.67" cy="425.07" r="2.6" fill="#e5bd26" fill-opacity="0.9"/>
<circle cx="180.00" cy="421.96" r="2.6" fill="#306bc8" fill-opacity="0.9"/>
<circle cx="179.85" cy="424.14" r="2.6" fill="#e5bd26" fill-opacity="0.9"/>
<circle cx="183.18" cy="421.46" r="2.6" fill="#306bc8" fill-opacity="0.9"/>
<circle cx="183.03" cy="424.12" r="2.6" fill="#e5bd26" fill-opacity="0.9"/>
<circle cx="186.20" cy="423.91" r="2.6" fill="#e5bd26" fill-opacity="0.9"/>
<circle cx="186.35" cy="421.04" r="2.6" fill="#306bc8" fill-opacity="0.9"/>
<circle cx="189.37" cy="422.43" r="2.6" fill="#e5bd26" fill-opacity="0.9"/>
<circle cx="189.52" cy="420.04" r="2.6" fill="#306bc8" fill-opacity="0.9"/>
<circle cx="192.70" cy="420.51" r="2.6" fill="#306bc8" fill-opacity="0.9"/>
<circle cx="192.55" cy="421.41" r="2.6" fill="#e5bd26" fill-opacity="0.9"/>
<circle cx="195.72" cy="420.09" r="2.6" fill="#e5bd26" fill-opacity="0.9"/>
<circle cx="195.88" cy="420.17" r="2.6" fill="#306bc8" fill-opacity="0.9"/>
<circle cx="198.90" cy="419.83" r="2.6" fill="#e5bd26" fill-opacity="0.9"/>
<circle cx="199.05" cy="420.72" r="2.6" fill="#306bc8" fill-opacity="0.9"/>
<circle cx="202.22" cy="420.25" r="2.6" fill="#306bc8" fill-opacity="0.9"/>
<circle cx="202.07" cy="420.48" r="2.6" fill="#e5bd26" fill-opacity="0.9"/>
<circle cx="205.40" cy="419.60" r="2.6" fill="#306bc8" fill-opacity="0.9"/>
<circle cx="205.25" cy="419.74" r="2.6" fill="#e5bd26" fill-opacity="0.9"/>
<circle cx="208.57" cy="419.23" r="2.6" fill="#306bc8" fill-opacity="0.9"/>
<circle cx="208.42" cy="419.66" r="2.6" fill="#e5bd26" fill-opacity="0.9"/>
<circle cx="211.75" cy="419.66" r="2.6" fill="#306bc8" fill-opacity="0.9"/>
<circle cx="211.60" cy="419.18" r="2.6" fill="#e5bd26" fill-opacity="0.9"/>
<circle cx="214.92" cy="419.53" r="2.6" fill="#306bc8" fill-opacity="0.9"/>
<circle cx="214.77" cy="418.46" r="2.6" fill="#e5bd26" fill-opacity="0.9"/>
<circle cx="217.95" cy="418.16" r="2.6" fill="#e5bd26" fill-opacity="0.9"/>
<circle cx="218.10" cy="418.87" r="2.6" fill="#306bc8" fill-opacity="0.9"/>
<circle cx="221.28" cy="418.88" r="2.6" fill="#306bc8" fill-opacity="0.9"/>
<circle cx="221.12" cy="417.50" r="2.6" fill="#e5bd26" fill-opacity="0.9"/>
<circle cx="224.30" cy="416.50" r="2.6" fill="#e5bd26" fill-opacity="0.9"/>
<circle cx="224.45" cy="418.47" r="2.6" fill="#306bc8" fill-opacity="0.9"/>
<circle cx="227.62" cy="418.49" r="2.6" fill="#306bc8" fill-opacity="0.9"/>
<circle cx="227.47" cy="416.94" r="2.6" fill="#e5bd26" fill-opacity="0.9"/>
<circle cx="230.80" cy="418.58" r="2.6" fill="#306bc8" fill-opacity="0.9"/>
<circle cx="230.65" cy="416.17" r="2.6" fill="#e5bd26" fill-opacity="0.9"/>
<circle cx="233.97" cy="418.09" r="2.6" fill="#306bc8" fill-opacity="0.9"/>
<circle cx="233.82" cy="416.31" r="2.6" fill="#e5bd26" fill-opacity="0.9"/>
<circle cx="237.00" cy="415.54" r="2.6" fill="#e5bd26" fill-opacity="0.9"/>
<circle cx="237.15" cy="417.97" r="2.6" fill="#306bc8" fill-opacity="0.9"/>
<circle cx="240.32" cy="417.49" r="2.6" fill="#306bc8" fill-opacity="0.9"/>
<circle cx="240.17" cy="415.56" r="2.6" fill="#e5bd26" fill-opacity="0.9"/>
<circle cx="243.50" cy="417.38" r="2.6" fill="#306bc8" fill-opacity="0.9"/>
<circle cx="243.35" cy="416.01" r="2.6" fill="#e5bd26" fill-opacity="0.9"/>
<circle cx="246.67" cy="417.03" r="2.6" fill="#306bc8" fill-opacity="0.9"/>
<circle cx="246.52" cy="415.60" r="2.6" fill="#e5bd26" fill-opacity="0.9"/>
<circle cx="249.85" cy="417.32" r="2.6" fill="#306bc8" fill-opacity="0.9"/>
<circle cx="249.70" cy="415.09" r="2.6" fill="#e5bd26" fill-opacity="0.9"/>
<circle cx="252.87" cy="414.69" r="2.6" fill="#e5bd26" fill-opacity="0.9"/>
<circle cx="253.02" cy="416.73" r="2.6" fill="#306bc8" fill-opacity="0.9"/>
<circle cx="256.05" cy="413.54" r="2.6" fill="#e5bd26" fill-opacity="0.9"/>
<circle cx="256.20" cy="416.26" r="2.6" fill="#306bc8" fill-opacity="0.9"/>
<circle cx="259.23" cy="413.34" r="2.6" fill="#e5bd26" fill-opacity="0.9"/>
<circle cx="259.38" cy="415.27" r="2.6" fill="#306bc8" fill-opacity="0.9"/>
<circle cx="262.55" cy="414.94" r="2.6" fill="#306bc8" fill-opacity="0.9"/>
<circle cx="262.40" cy="412.59" r="2.6" fill="#e5bd26" fill-opacity="0.9"/>
<circle cx="265.58" cy="412.15" r="2.6" fill="#e5bd26" fill-opacity="0.9"/>
<circle cx="265.73" cy="414.90" r="2.6" fill="#306bc8" fill-opacity="0.9"/>
<circle cx="268.90" cy="414.09" r="2.6" fill="#306bc8" fill-opacity="0.9"/>
<circle cx="268.75" cy="411.53" r="2.6" fill="#e5bd26" fill-opacity="0.9"/>
<circle cx="272.07" cy="413.66" r="2.6" fill="#306bc8" fill-opacity="0.9"/>
<circle cx="271.93" cy="411.36" r="2.6" fill="#e5bd26" fill-opacity="0.9"/>
<circle cx="275.10" cy="410.69" r="2.6" fill="#e5bd26" fill-opacity="0.9"/>
<circle cx="275.25" cy="412.25" r="2.6" fill="#306bc8" fill-opacity="0.9"/>
<circle cx="278.27" cy="410.15" r="2.6" fill="#e5bd26" fill-opacity="0.9"/>
<circle cx="278.42" cy="411.76" r="2.6" fill="#306bc8" fill-opacity="0.9"/>
<circle cx="281.45" cy="409.42" r="2.6" fill="#e5bd26" fill-opacity="0.9"/>
<circle cx="281.60" cy="411.96" r="2.6" fill="#306bc8" fill-opacity="0.9"/>
<circle cx="284.77" cy="410.37" r="2.6" fill="#306bc8" fill-opacity="0.9"/>
<circle cx="284.62" cy="408.94" r="2.6" fill="#e5bd26" fill-opacity="0.9"/>
<circle cx="287.80" cy="408.35" r="2.6" fill="#e5bd26" fill-opacity="0.9"/>
<circle cx="287.95" cy="409.50" r="2.6" fill="#306bc8" fill-opacity="0.9"/>
<circle cx="290.98" cy="407.20" r="2.6" fill="#e5bd26" fill-opacity="0.9"/>
<circle cx="291.12" cy="408.79" r="2.6" fill="#306bc8" fill-opacity="0.9"/>
<circle cx="294.30" cy="407.41" r="2.6" fill="#306bc8" fill-opacity="0.9"/>
<circle cx="294.15" cy="405.91" r="2.6" fill="#e5bd26" fill-opacity="0.9"/>
<circle cx="297.48" cy="406.83" r="2.6" fill="#306bc8" fill-opacity="0.9"/>
<circle cx="297.33" cy="405.39" r="2.6" fill="#e5bd26" fill-opacity="0.9"/>
<circle cx="300.50" cy="404.81" r="2.6" fill="#e5bd26" fill-opacity="0.9"/>
<circle cx="300.65" cy="405.90" r="2.6" fill="#306bc8" fill-opacity="0.9"/>
<circle cx="303.82" cy="406.05" r="2.6" fill="#306bc8" fill-opacity="0.9"/>
<circle cx="303.68" cy="404.06" r="2.6" fill="#e5bd26" fill-opacity="0.9"/>
<circle cx="306.85" cy="402.56" r="2.6" fill="#e5bd26" fill-opacity="0.9"/>
<circle cx="307.00" cy="405.35" r="2.6" fill="#306bc8" fill-opacity="0.9"/>
<circle cx="310.17" cy="404.69" r="2.6" fill="#306bc8" fill-opacity="0.9"/>
<circle cx="310.02" cy="401.92" r="2.6" fill="#e5bd26" fill-opacity="0.9"/>
<circle cx="313.35" cy="403.84" r="2.6" fill="#306bc8" fill-opacity="0.9"/>
<circle cx="313.20" cy="400.86" r="2.6" fill="#e5bd26" fill-opacity="0.9"/>
<circle cx="316.38" cy="400.15" r="2.6" fill="#e5bd26" fill-opacity="0.9"/>
<circle cx="316.52" cy="402.70" r="2.6" fill="#306bc8" fill-opacity="0.9"/>
<circle cx="319.55" cy="398.95" r="2.6" fill="#e5bd26" fill-opacity="0.9"/>
<circle cx="319.70" cy="400.99" r="2.6" fill="#306bc8" fill-opacity="0.9"/>
<circle cx="322.88" cy="398.30" r="2.6" fill="#306bc8" fill-opacity="0.9"/>
<circle cx="322.73" cy="397.10" r="2.6" fill="#e5bd26" fill-opacity="0.9"/>
<circle cx="326.05" cy="387.40" r="2.6" fill="#306bc8" fill-opacity="0.9"/>
<circle cx="325.90" cy="394.50" r="2.6" fill="#e5bd26" fill-opacity="0.9"/>
</g>
<circle cx="264" cy="27.75" r="4.5" fill="#6b98d6" stroke="#3b68b0" stroke-width="1.1"/>
<circle cx="264" cy="42.3" r="4.5" fill="#f2c12e" stroke="#4f7cc2" stroke-width="1.1"/>
<text x="274.1" y="30.8" textLength="23.4" lengthAdjust="spacingAndGlyphs" style="font-family:'Liberation Sans',sans-serif;font-size:9px" fill="#231f20" stroke="#231f20" stroke-width="0.2">Visit 2</text>
<text x="274.1" y="45.2" textLength="23.4" lengthAdjust="spacingAndGlyphs" style="font-family:'Liberation Sans',sans-serif;font-size:9px" fill="#231f20" stroke="#231f20" stroke-width="0.2">Visit 3</text>
<rect x="0" y="0" width="520" height="1.1" fill="#000"/><rect x="0" y="0" width="1.1" height="509" fill="#000"/><rect x="518.4" y="0" width="1.6" height="509" fill="#000"/><rect x="0" y="507.4" width="520" height="1.6" fill="#000"/>
</svg>
</body></html>
